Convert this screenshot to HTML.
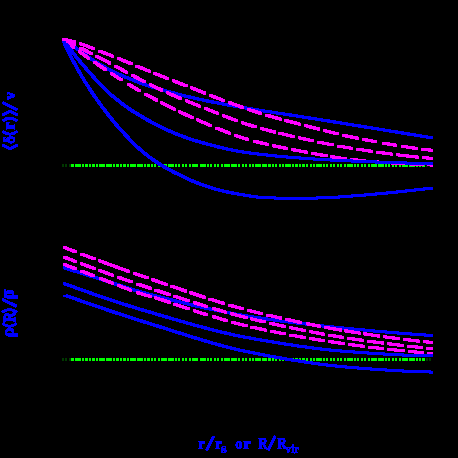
<!DOCTYPE html>
<html><head><meta charset="utf-8"><title>plot</title>
<style>
html,body{margin:0;padding:0;background:#000;}
body{width:458px;height:458px;position:relative;overflow:hidden;font-family:"Liberation Serif",serif;}
</style></head><body>
<svg width="458" height="458" viewBox="0 0 458 458" style="position:absolute;left:0;top:0">
<rect width="458" height="458" fill="#000"/>
<path d="M71 164H74V167H71ZM75 164H81V167H75ZM82 164H84V167H82ZM85 164H88V167H85ZM89 164H91V167H89ZM92 164H95V167H92ZM96 164H98V167H96ZM99 164H105V167H99ZM106 164H112V167H106ZM113 164H115V167H113ZM116 164H119V167H116ZM120 164H122V167H120ZM123 164H126V167H123ZM127 164H129V167H127ZM130 164H136V167H130ZM137 164H143V167H137ZM144 164H146V167H144ZM147 164H150V167H147ZM151 164H153V167H151ZM154 164H156V167H154ZM158 164H160V167H158ZM161 164H167V167H161ZM168 164H174V167H168ZM175 164H177V167H175ZM178 164H180V167H178ZM182 164H184V167H182ZM185 164H187V167H185ZM189 164H191V167H189ZM192 164H198V167H192ZM200 164H206V167H200ZM207 164H209V167H207ZM210 164H212V167H210ZM214 164H216V167H214ZM217 164H219V167H217ZM221 164H223V167H221ZM224 164H230V167H224ZM231 164H237V167H231ZM238 164H240V167H238ZM242 164H244V167H242ZM245 164H247V167H245ZM249 164H251V167H249ZM252 164H254V167H252ZM255 164H261V167H255ZM262 164H267V167H262ZM268 164H271V167H268ZM272 164H274V167H272ZM275 164H277V167H275ZM279 164H281V167H279ZM282 164H284V167H282ZM285 164H291V167H285ZM292 164H294V167H292ZM295 164H298V167H295ZM299 164H301V167H299ZM302 164H305V167H302ZM306 164H308V167H306ZM310 164H312V167H310ZM313 164H315V167H313ZM316 164H322V167H316ZM323 164H325V167H323ZM326 164H328V167H326ZM330 164H332V167H330ZM333 164H335V167H333ZM337 164H339V167H337ZM340 164H342V167H340ZM344 164H346V167H344ZM347 164H353V167H347ZM354 164H356V167H354ZM357 164H359V167H357ZM361 164H363V167H361ZM364 164H366V167H364ZM368 164H370V167H368ZM371 164H377V167H371ZM378 164H384V167H378ZM385 164H387V167H385ZM388 164H390V167H388ZM392 164H394V167H392ZM395 164H397V167H395ZM399 164H401V167H399ZM402 164H408V167H402ZM409 164H415V167H409ZM416 164H418V167H416ZM419 164H421V167H419ZM422 164H425V167H422Z" fill="#00ff00" shape-rendering="crispEdges"/>
<path d="M62 164H64V167H62ZM65 164H67V167H65ZM69 164H71V167H69ZM426 164H428V167H426ZM429 164H431V167H429Z" fill="#003800" shape-rendering="crispEdges"/>
<path d="M71 358H74V361H71ZM75 358H81V361H75ZM82 358H84V361H82ZM85 358H88V361H85ZM89 358H91V361H89ZM92 358H95V361H92ZM96 358H98V361H96ZM99 358H105V361H99ZM106 358H112V361H106ZM113 358H115V361H113ZM116 358H119V361H116ZM120 358H122V361H120ZM123 358H126V361H123ZM127 358H129V361H127ZM130 358H136V361H130ZM137 358H143V361H137ZM144 358H146V361H144ZM147 358H150V361H147ZM151 358H153V361H151ZM154 358H156V361H154ZM158 358H160V361H158ZM161 358H167V361H161ZM168 358H174V361H168ZM175 358H177V361H175ZM178 358H180V361H178ZM182 358H184V361H182ZM185 358H187V361H185ZM189 358H191V361H189ZM192 358H198V361H192ZM200 358H206V361H200ZM207 358H209V361H207ZM210 358H212V361H210ZM214 358H216V361H214ZM217 358H219V361H217ZM221 358H223V361H221ZM224 358H230V361H224ZM231 358H237V361H231ZM238 358H240V361H238ZM242 358H244V361H242ZM245 358H247V361H245ZM249 358H251V361H249ZM252 358H254V361H252ZM255 358H261V361H255ZM262 358H267V361H262ZM268 358H271V361H268ZM272 358H274V361H272ZM275 358H277V361H275ZM279 358H281V361H279ZM282 358H284V361H282ZM285 358H291V361H285ZM292 358H294V361H292ZM295 358H298V361H295ZM299 358H301V361H299ZM302 358H305V361H302ZM306 358H308V361H306ZM310 358H312V361H310ZM313 358H315V361H313ZM316 358H322V361H316ZM323 358H325V361H323ZM326 358H328V361H326ZM330 358H332V361H330ZM333 358H335V361H333ZM337 358H339V361H337ZM340 358H342V361H340ZM344 358H346V361H344ZM347 358H353V361H347ZM354 358H356V361H354ZM357 358H359V361H357ZM361 358H363V361H361ZM364 358H366V361H364ZM368 358H370V361H368ZM371 358H377V361H371ZM378 358H384V361H378ZM385 358H387V361H385ZM388 358H390V361H388ZM392 358H394V361H392ZM395 358H397V361H395ZM399 358H401V361H399ZM402 358H408V361H402ZM409 358H415V361H409ZM416 358H418V361H416ZM419 358H421V361H419ZM422 358H425V361H422Z" fill="#00ff00" shape-rendering="crispEdges"/>
<path d="M62 358H64V361H62ZM65 358H67V361H65ZM69 358H71V361H69ZM426 358H428V361H426ZM429 358H431V361H429Z" fill="#003800" shape-rendering="crispEdges"/>
<g shape-rendering="crispEdges">
<path id="tb1" d="M62.8 38.3 L65.0 38.3 L66.0 39.0 L67.0 39.7 L68.0 40.4 L69.0 41.1 L70.0 41.8 L71.0 42.5 L72.0 43.2 L73.0 43.9 L74.0 44.5 L75.0 45.2 L76.0 45.9 L77.0 46.6 L78.0 47.3 L79.0 48.0 L80.0 48.7 L81.0 49.5 L82.0 50.2 L83.0 50.9 L84.0 51.6 L85.0 52.3 L86.0 53.1 L87.0 53.8 L88.0 54.5 L89.0 55.2 L90.0 55.9 L91.0 56.6 L92.0 57.3 L93.0 57.9 L94.0 58.6 L95.0 59.2 L96.0 59.9 L97.0 60.5 L98.0 61.1 L99.0 61.7 L100.0 62.3 L101.0 62.9 L102.0 63.5 L103.0 64.1 L104.0 64.7 L105.0 65.2 L106.0 65.8 L107.0 66.4 L108.0 66.9 L109.0 67.4 L110.0 68.0 L111.0 68.5 L112.0 69.0 L113.0 69.5 L114.0 70.0 L115.0 70.5 L116.0 71.0 L117.0 71.4 L118.0 71.9 L119.0 72.4 L120.0 72.8 L121.0 73.3 L122.0 73.7 L123.0 74.1 L124.0 74.5 L125.0 75.0 L126.0 75.4 L127.0 75.8 L128.0 76.2 L129.0 76.6 L130.0 77.0 L131.0 77.4 L132.0 77.8 L133.0 78.2 L134.0 78.6 L135.0 79.0 L136.0 79.4 L137.0 79.8 L138.0 80.2 L139.0 80.5 L140.0 80.9 L141.0 81.3 L142.0 81.6 L143.0 82.0 L144.0 82.3 L145.0 82.7 L146.0 83.0 L147.0 83.4 L148.0 83.7 L149.0 84.0 L150.0 84.3 L151.0 84.7 L152.0 85.0 L153.0 85.3 L154.0 85.6 L155.0 85.9 L156.0 86.2 L157.0 86.5 L158.0 86.8 L159.0 87.1 L160.0 87.4 L161.0 87.7 L162.0 88.0 L163.0 88.3 L164.0 88.6 L165.0 88.9 L166.0 89.2 L167.0 89.4 L168.0 89.7 L169.0 90.0 L170.0 90.3 L171.0 90.5 L172.0 90.8 L173.0 91.1 L174.0 91.4 L175.0 91.6 L176.0 91.9 L177.0 92.1 L178.0 92.4 L179.0 92.7 L180.0 92.9 L181.0 93.2 L182.0 93.4 L183.0 93.7 L184.0 93.9 L185.0 94.2 L186.0 94.4 L187.0 94.7 L188.0 94.9 L189.0 95.1 L190.0 95.4 L191.0 95.6 L192.0 95.8 L193.0 96.1 L194.0 96.3 L195.0 96.5 L196.0 96.8 L197.0 97.0 L198.0 97.2 L199.0 97.4 L200.0 97.7 L201.0 97.9 L202.0 98.1 L203.0 98.3 L204.0 98.5 L205.0 98.7 L206.0 98.9 L207.0 99.2 L208.0 99.4 L209.0 99.6 L210.0 99.8 L211.0 100.0 L212.0 100.2 L213.0 100.4 L214.0 100.6 L215.0 100.8 L216.0 101.0 L217.0 101.2 L218.0 101.3 L219.0 101.5 L220.0 101.7 L221.0 101.9 L222.0 102.1 L223.0 102.3 L224.0 102.5 L225.0 102.7 L226.0 102.8 L227.0 103.0 L228.0 103.2 L229.0 103.4 L230.0 103.6 L231.0 103.7 L232.0 103.9 L233.0 104.1 L234.0 104.3 L235.0 104.4 L236.0 104.6 L237.0 104.8 L238.0 105.0 L239.0 105.1 L240.0 105.3 L241.0 105.5 L242.0 105.7 L243.0 105.8 L244.0 106.0 L245.0 106.2 L246.0 106.3 L247.0 106.5 L248.0 106.7 L249.0 106.8 L250.0 107.0 L251.0 107.2 L252.0 107.4 L253.0 107.5 L254.0 107.7 L255.0 107.9 L256.0 108.0 L257.0 108.2 L258.0 108.3 L259.0 108.5 L260.0 108.7 L261.0 108.8 L262.0 109.0 L263.0 109.1 L264.0 109.3 L265.0 109.5 L266.0 109.6 L267.0 109.8 L268.0 109.9 L269.0 110.1 L270.0 110.2 L271.0 110.4 L272.0 110.5 L273.0 110.7 L274.0 110.9 L275.0 111.0 L276.0 111.2 L277.0 111.3 L278.0 111.5 L279.0 111.6 L280.0 111.8 L281.0 111.9 L282.0 112.1 L283.0 112.2 L284.0 112.4 L285.0 112.5 L286.0 112.7 L287.0 112.8 L288.0 113.0 L289.0 113.1 L290.0 113.3 L291.0 113.4 L292.0 113.6 L293.0 113.7 L294.0 113.9 L295.0 114.0 L296.0 114.2 L297.0 114.4 L298.0 114.5 L299.0 114.7 L300.0 114.8 L301.0 115.0 L302.0 115.1 L303.0 115.3 L304.0 115.5 L305.0 115.6 L306.0 115.8 L307.0 115.9 L308.0 116.1 L309.0 116.3 L310.0 116.4 L311.0 116.6 L312.0 116.7 L313.0 116.9 L314.0 117.0 L315.0 117.2 L316.0 117.4 L317.0 117.5 L318.0 117.7 L319.0 117.8 L320.0 118.0 L321.0 118.2 L322.0 118.3 L323.0 118.5 L324.0 118.6 L325.0 118.8 L326.0 119.0 L327.0 119.1 L328.0 119.3 L329.0 119.4 L330.0 119.6 L331.0 119.8 L332.0 119.9 L333.0 120.1 L334.0 120.2 L335.0 120.4 L336.0 120.6 L337.0 120.7 L338.0 120.9 L339.0 121.1 L340.0 121.2 L341.0 121.4 L342.0 121.5 L343.0 121.7 L344.0 121.9 L345.0 122.0 L346.0 122.2 L347.0 122.3 L348.0 122.5 L349.0 122.7 L350.0 122.8 L351.0 123.0 L352.0 123.1 L353.0 123.3 L354.0 123.5 L355.0 123.6 L356.0 123.8 L357.0 124.0 L358.0 124.1 L359.0 124.3 L360.0 124.4 L361.0 124.6 L362.0 124.8 L363.0 124.9 L364.0 125.1 L365.0 125.2 L366.0 125.4 L367.0 125.6 L368.0 125.7 L369.0 125.9 L370.0 126.1 L371.0 126.2 L372.0 126.4 L373.0 126.5 L374.0 126.7 L375.0 126.9 L376.0 127.0 L377.0 127.2 L378.0 127.3 L379.0 127.5 L380.0 127.7 L381.0 127.8 L382.0 128.0 L383.0 128.2 L384.0 128.3 L385.0 128.5 L386.0 128.6 L387.0 128.8 L388.0 129.0 L389.0 129.1 L390.0 129.3 L391.0 129.5 L392.0 129.6 L393.0 129.8 L394.0 129.9 L395.0 130.1 L396.0 130.3 L397.0 130.4 L398.0 130.6 L399.0 130.8 L400.0 130.9 L401.0 131.1 L402.0 131.2 L403.0 131.4 L404.0 131.6 L405.0 131.7 L406.0 131.9 L407.0 132.1 L408.0 132.2 L409.0 132.4 L410.0 132.6 L411.0 132.7 L412.0 132.9 L413.0 133.0 L414.0 133.2 L415.0 133.4 L416.0 133.5 L417.0 133.7 L418.0 133.9 L419.0 134.0 L420.0 134.2 L421.0 134.4 L422.0 134.5 L423.0 134.7 L424.0 134.8 L425.0 135.0 L426.0 135.2 L427.0 135.3 L428.0 135.5 L429.0 135.7 L430.0 135.8 L431.0 136.0 L432.0 136.2 L432.6 136.3 L432.6 139.3 L430.4 139.3 L429.8 139.2 L428.8 139.0 L427.8 138.8 L426.8 138.7 L425.8 138.5 L424.8 138.3 L423.8 138.2 L422.8 138.0 L421.8 137.8 L420.8 137.7 L419.8 137.5 L418.8 137.4 L417.8 137.2 L416.8 137.0 L415.8 136.9 L414.8 136.7 L413.8 136.5 L412.8 136.4 L411.8 136.2 L410.8 136.0 L409.8 135.9 L408.8 135.7 L407.8 135.6 L406.8 135.4 L405.8 135.2 L404.8 135.1 L403.8 134.9 L402.8 134.7 L401.8 134.6 L400.8 134.4 L399.8 134.2 L398.8 134.1 L397.8 133.9 L396.8 133.8 L395.8 133.6 L394.8 133.4 L393.8 133.3 L392.8 133.1 L391.8 132.9 L390.8 132.8 L389.8 132.6 L388.8 132.5 L387.8 132.3 L386.8 132.1 L385.8 132.0 L384.8 131.8 L383.8 131.6 L382.8 131.5 L381.8 131.3 L380.8 131.2 L379.8 131.0 L378.8 130.8 L377.8 130.7 L376.8 130.5 L375.8 130.3 L374.8 130.2 L373.8 130.0 L372.8 129.9 L371.8 129.7 L370.8 129.5 L369.8 129.4 L368.8 129.2 L367.8 129.1 L366.8 128.9 L365.8 128.7 L364.8 128.6 L363.8 128.4 L362.8 128.2 L361.8 128.1 L360.8 127.9 L359.8 127.8 L358.8 127.6 L357.8 127.4 L356.8 127.3 L355.8 127.1 L354.8 127.0 L353.8 126.8 L352.8 126.6 L351.8 126.5 L350.8 126.3 L349.8 126.1 L348.8 126.0 L347.8 125.8 L346.8 125.7 L345.8 125.5 L344.8 125.3 L343.8 125.2 L342.8 125.0 L341.8 124.9 L340.8 124.7 L339.8 124.5 L338.8 124.4 L337.8 124.2 L336.8 124.1 L335.8 123.9 L334.8 123.7 L333.8 123.6 L332.8 123.4 L331.8 123.2 L330.8 123.1 L329.8 122.9 L328.8 122.8 L327.8 122.6 L326.8 122.4 L325.8 122.3 L324.8 122.1 L323.8 122.0 L322.8 121.8 L321.8 121.6 L320.8 121.5 L319.8 121.3 L318.8 121.2 L317.8 121.0 L316.8 120.8 L315.8 120.7 L314.8 120.5 L313.8 120.4 L312.8 120.2 L311.8 120.0 L310.8 119.9 L309.8 119.7 L308.8 119.6 L307.8 119.4 L306.8 119.3 L305.8 119.1 L304.8 118.9 L303.8 118.8 L302.8 118.6 L301.8 118.5 L300.8 118.3 L299.8 118.1 L298.8 118.0 L297.8 117.8 L296.8 117.7 L295.8 117.5 L294.8 117.4 L293.8 117.2 L292.8 117.0 L291.8 116.9 L290.8 116.7 L289.8 116.6 L288.8 116.4 L287.8 116.3 L286.8 116.1 L285.8 116.0 L284.8 115.8 L283.8 115.7 L282.8 115.5 L281.8 115.4 L280.8 115.2 L279.8 115.1 L278.8 114.9 L277.8 114.8 L276.8 114.6 L275.8 114.5 L274.8 114.3 L273.8 114.2 L272.8 114.0 L271.8 113.9 L270.8 113.7 L269.8 113.5 L268.8 113.4 L267.8 113.2 L266.8 113.1 L265.8 112.9 L264.8 112.8 L263.8 112.6 L262.8 112.5 L261.8 112.3 L260.8 112.1 L259.8 112.0 L258.8 111.8 L257.8 111.7 L256.8 111.5 L255.8 111.3 L254.8 111.2 L253.8 111.0 L252.8 110.9 L251.8 110.7 L250.8 110.5 L249.8 110.4 L248.8 110.2 L247.8 110.0 L246.8 109.8 L245.8 109.7 L244.8 109.5 L243.8 109.3 L242.8 109.2 L241.8 109.0 L240.8 108.8 L239.8 108.7 L238.8 108.5 L237.8 108.3 L236.8 108.1 L235.8 108.0 L234.8 107.8 L233.8 107.6 L232.8 107.4 L231.8 107.3 L230.8 107.1 L229.8 106.9 L228.8 106.7 L227.8 106.6 L226.8 106.4 L225.8 106.2 L224.8 106.0 L223.8 105.8 L222.8 105.7 L221.8 105.5 L220.8 105.3 L219.8 105.1 L218.8 104.9 L217.8 104.7 L216.8 104.5 L215.8 104.3 L214.8 104.2 L213.8 104.0 L212.8 103.8 L211.8 103.6 L210.8 103.4 L209.8 103.2 L208.8 103.0 L207.8 102.8 L206.8 102.6 L205.8 102.4 L204.8 102.2 L203.8 101.9 L202.8 101.7 L201.8 101.5 L200.8 101.3 L199.8 101.1 L198.8 100.9 L197.8 100.7 L196.8 100.4 L195.8 100.2 L194.8 100.0 L193.8 99.8 L192.8 99.5 L191.8 99.3 L190.8 99.1 L189.8 98.8 L188.8 98.6 L187.8 98.4 L186.8 98.1 L185.8 97.9 L184.8 97.7 L183.8 97.4 L182.8 97.2 L181.8 96.9 L180.8 96.7 L179.8 96.4 L178.8 96.2 L177.8 95.9 L176.8 95.7 L175.8 95.4 L174.8 95.1 L173.8 94.9 L172.8 94.6 L171.8 94.4 L170.8 94.1 L169.8 93.8 L168.8 93.5 L167.8 93.3 L166.8 93.0 L165.8 92.7 L164.8 92.4 L163.8 92.2 L162.8 91.9 L161.8 91.6 L160.8 91.3 L159.8 91.0 L158.8 90.7 L157.8 90.4 L156.8 90.1 L155.8 89.8 L154.8 89.5 L153.8 89.2 L152.8 88.9 L151.8 88.6 L150.8 88.3 L149.8 88.0 L148.8 87.7 L147.8 87.3 L146.8 87.0 L145.8 86.7 L144.8 86.4 L143.8 86.0 L142.8 85.7 L141.8 85.3 L140.8 85.0 L139.8 84.6 L138.8 84.3 L137.8 83.9 L136.8 83.5 L135.8 83.2 L134.8 82.8 L133.8 82.4 L132.8 82.0 L131.8 81.6 L130.8 81.2 L129.8 80.8 L128.8 80.4 L127.8 80.0 L126.8 79.6 L125.8 79.2 L124.8 78.8 L123.8 78.4 L122.8 78.0 L121.8 77.5 L120.8 77.1 L119.8 76.7 L118.8 76.3 L117.8 75.8 L116.8 75.4 L115.8 74.9 L114.8 74.4 L113.8 74.0 L112.8 73.5 L111.8 73.0 L110.8 72.5 L109.8 72.0 L108.8 71.5 L107.8 71.0 L106.8 70.4 L105.8 69.9 L104.8 69.4 L103.8 68.8 L102.8 68.2 L101.8 67.7 L100.8 67.1 L99.8 66.5 L98.8 65.9 L97.8 65.3 L96.8 64.7 L95.8 64.1 L94.8 63.5 L93.8 62.9 L92.8 62.2 L91.8 61.6 L90.8 60.9 L89.8 60.3 L88.8 59.6 L87.8 58.9 L86.8 58.2 L85.8 57.5 L84.8 56.8 L83.8 56.1 L82.8 55.3 L81.8 54.6 L80.8 53.9 L79.8 53.2 L78.8 52.5 L77.8 51.7 L76.8 51.0 L75.8 50.3 L74.8 49.6 L73.8 48.9 L72.8 48.2 L71.8 47.5 L70.8 46.9 L69.8 46.2 L68.8 45.5 L67.8 44.8 L66.8 44.1 L65.8 43.4 L64.8 42.7 L63.8 42.0 L62.8 41.3Z" fill="#0000ff"/>
<path d="M62.4 38.1 L64.6 38.1 L65.6 38.9 L66.6 39.7 L67.6 40.5 L68.6 41.2 L69.6 42.0 L70.6 42.7 L71.6 43.5 L72.6 44.2 L73.6 45.0 L74.6 45.7 L74.6 48.7 L72.4 48.7 L71.4 48.0 L70.4 47.2 L69.4 46.5 L68.4 45.7 L67.4 45.0 L66.4 44.2 L65.4 43.5 L64.4 42.7 L63.4 41.9 L62.4 41.1ZM78.4 50.1 L80.6 50.1 L81.6 50.9 L82.6 51.6 L83.6 52.3 L84.6 53.0 L85.6 53.7 L86.6 54.5 L87.6 55.2 L88.6 55.9 L89.6 56.6 L89.6 59.6 L87.4 59.6 L86.4 58.9 L85.4 58.2 L84.4 57.5 L83.4 56.7 L82.4 56.0 L81.4 55.3 L80.4 54.6 L79.4 53.9 L78.4 53.1ZM93.4 60.8 L95.6 60.8 L96.6 61.4 L97.6 62.1 L98.6 62.8 L99.6 63.5 L100.6 64.2 L101.6 64.8 L102.6 65.5 L103.6 66.2 L104.6 66.8 L105.6 67.5 L106.6 68.2 L106.6 71.2 L104.4 71.2 L103.4 70.5 L102.4 69.8 L101.4 69.2 L100.4 68.5 L99.4 67.8 L98.4 67.2 L97.4 66.5 L96.4 65.8 L95.4 65.1 L94.4 64.4 L93.4 63.8ZM110.4 72.1 L112.6 72.1 L113.6 72.7 L114.6 73.4 L115.6 74.0 L116.6 74.7 L117.6 75.3 L118.6 75.9 L119.6 76.6 L120.6 77.2 L121.6 77.8 L122.6 78.4 L122.6 81.4 L120.4 81.4 L119.4 80.8 L118.4 80.2 L117.4 79.6 L116.4 78.9 L115.4 78.3 L114.4 77.7 L113.4 77.0 L112.4 76.4 L111.4 75.7 L110.4 75.1ZM127.4 82.7 L129.6 82.7 L130.6 83.3 L131.6 83.9 L132.6 84.5 L133.6 85.1 L134.6 85.7 L135.6 86.3 L136.6 86.9 L137.6 87.5 L138.6 88.1 L139.6 88.7 L140.6 89.2 L140.6 92.2 L138.4 92.2 L137.4 91.7 L136.4 91.1 L135.4 90.5 L134.4 89.9 L133.4 89.3 L132.4 88.7 L131.4 88.1 L130.4 87.5 L129.4 86.9 L128.4 86.3 L127.4 85.7ZM144.4 92.6 L146.6 92.6 L147.6 93.2 L148.6 93.7 L149.6 94.3 L150.6 94.8 L151.6 95.4 L152.6 95.9 L153.6 96.4 L154.6 97.0 L155.6 97.5 L156.6 98.0 L157.6 98.5 L157.6 101.5 L155.4 101.5 L154.4 101.0 L153.4 100.5 L152.4 100.0 L151.4 99.4 L150.4 98.9 L149.4 98.4 L148.4 97.8 L147.4 97.3 L146.4 96.7 L145.4 96.2 L144.4 95.6ZM160.4 101.2 L162.6 101.2 L163.6 101.7 L164.6 102.2 L165.6 102.7 L166.6 103.2 L167.6 103.7 L168.6 104.2 L169.6 104.7 L170.6 105.2 L171.6 105.7 L172.6 106.2 L173.6 106.7 L174.6 107.2 L175.6 107.7 L175.6 110.7 L173.4 110.7 L172.4 110.2 L171.4 109.7 L170.4 109.2 L169.4 108.7 L168.4 108.2 L167.4 107.7 L166.4 107.2 L165.4 106.7 L164.4 106.2 L163.4 105.7 L162.4 105.2 L161.4 104.7 L160.4 104.2ZM178.4 110.2 L180.6 110.2 L181.6 110.6 L182.6 111.1 L183.6 111.6 L184.6 112.1 L185.6 112.5 L186.6 113.0 L187.6 113.5 L188.6 113.9 L189.6 114.4 L190.6 114.9 L191.6 115.3 L192.6 115.8 L193.6 116.2 L193.6 119.2 L191.4 119.2 L190.4 118.8 L189.4 118.3 L188.4 117.9 L187.4 117.4 L186.4 116.9 L185.4 116.5 L184.4 116.0 L183.4 115.5 L182.4 115.1 L181.4 114.6 L180.4 114.1 L179.4 113.6 L178.4 113.2ZM196.4 118.4 L198.6 118.4 L199.6 118.9 L200.6 119.3 L201.6 119.7 L202.6 120.1 L203.6 120.6 L204.6 121.0 L205.6 121.4 L206.6 121.9 L207.6 122.3 L208.6 122.7 L209.6 123.1 L210.6 123.6 L211.6 124.0 L211.6 127.0 L209.4 127.0 L208.4 126.6 L207.4 126.1 L206.4 125.7 L205.4 125.3 L204.4 124.9 L203.4 124.4 L202.4 124.0 L201.4 123.6 L200.4 123.1 L199.4 122.7 L198.4 122.3 L197.4 121.9 L196.4 121.4ZM215.4 126.5 L217.6 126.5 L218.6 126.9 L219.6 127.3 L220.6 127.7 L221.6 128.1 L222.6 128.5 L223.6 128.9 L224.6 129.3 L225.6 129.7 L226.6 130.1 L227.6 130.5 L228.6 130.9 L229.6 131.3 L230.6 131.7 L230.6 134.7 L228.4 134.7 L227.4 134.3 L226.4 133.9 L225.4 133.5 L224.4 133.1 L223.4 132.7 L222.4 132.3 L221.4 131.9 L220.4 131.5 L219.4 131.1 L218.4 130.7 L217.4 130.3 L216.4 129.9 L215.4 129.5ZM234.4 133.9 L236.6 133.9 L237.6 134.2 L238.6 134.6 L239.6 134.9 L240.6 135.3 L241.6 135.6 L242.6 135.9 L243.6 136.2 L244.6 136.6 L245.6 136.9 L246.6 137.2 L247.6 137.5 L248.6 137.8 L248.6 140.8 L246.4 140.8 L245.4 140.5 L244.4 140.2 L243.4 139.9 L242.4 139.6 L241.4 139.2 L240.4 138.9 L239.4 138.6 L238.4 138.3 L237.4 137.9 L236.4 137.6 L235.4 137.2 L234.4 136.9ZM253.4 139.7 L255.6 139.7 L256.6 140.0 L257.6 140.2 L258.6 140.5 L259.6 140.8 L260.6 141.0 L261.6 141.2 L262.6 141.5 L263.6 141.7 L264.6 142.0 L265.6 142.2 L266.6 142.4 L267.6 142.7 L268.6 142.9 L268.6 145.9 L266.4 145.9 L265.4 145.7 L264.4 145.4 L263.4 145.2 L262.4 145.0 L261.4 144.7 L260.4 144.5 L259.4 144.2 L258.4 144.0 L257.4 143.8 L256.4 143.5 L255.4 143.2 L254.4 143.0 L253.4 142.7ZM272.4 144.2 L274.6 144.2 L275.6 144.5 L276.6 144.7 L277.6 144.9 L278.6 145.1 L279.6 145.3 L280.6 145.5 L281.6 145.7 L282.6 145.9 L283.6 146.1 L284.6 146.3 L285.6 146.5 L286.6 146.7 L287.6 146.9 L287.6 149.9 L285.4 149.9 L284.4 149.7 L283.4 149.5 L282.4 149.3 L281.4 149.1 L280.4 148.9 L279.4 148.7 L278.4 148.5 L277.4 148.3 L276.4 148.1 L275.4 147.9 L274.4 147.7 L273.4 147.5 L272.4 147.2ZM291.4 148.1 L293.6 148.1 L294.6 148.3 L295.6 148.5 L296.6 148.6 L297.6 148.8 L298.6 149.0 L299.6 149.2 L300.6 149.4 L301.6 149.6 L302.6 149.8 L303.6 150.0 L304.6 150.2 L305.6 150.4 L306.6 150.5 L307.6 150.7 L307.6 153.7 L305.4 153.7 L304.4 153.5 L303.4 153.4 L302.4 153.2 L301.4 153.0 L300.4 152.8 L299.4 152.6 L298.4 152.4 L297.4 152.2 L296.4 152.0 L295.4 151.8 L294.4 151.6 L293.4 151.5 L292.4 151.3 L291.4 151.1ZM311.4 151.9 L313.6 151.9 L314.6 152.0 L315.6 152.2 L316.6 152.4 L317.6 152.6 L318.6 152.8 L319.6 153.0 L320.6 153.1 L321.6 153.3 L322.6 153.5 L323.6 153.7 L324.6 153.9 L325.6 154.0 L326.6 154.2 L327.6 154.4 L327.6 157.4 L325.4 157.4 L324.4 157.2 L323.4 157.0 L322.4 156.9 L321.4 156.7 L320.4 156.5 L319.4 156.3 L318.4 156.1 L317.4 156.0 L316.4 155.8 L315.4 155.6 L314.4 155.4 L313.4 155.2 L312.4 155.0 L311.4 154.9ZM330.4 155.2 L332.6 155.2 L333.6 155.4 L334.6 155.5 L335.6 155.7 L336.6 155.8 L337.6 156.0 L338.6 156.1 L339.6 156.3 L340.6 156.4 L341.6 156.6 L342.6 156.7 L343.6 156.9 L344.6 157.0 L345.6 157.1 L346.6 157.3 L346.6 160.3 L344.4 160.3 L343.4 160.1 L342.4 160.0 L341.4 159.9 L340.4 159.7 L339.4 159.6 L338.4 159.4 L337.4 159.3 L336.4 159.1 L335.4 159.0 L334.4 158.8 L333.4 158.7 L332.4 158.5 L331.4 158.4 L330.4 158.2ZM350.4 158.0 L352.6 158.0 L353.6 158.1 L354.6 158.2 L355.6 158.3 L356.6 158.4 L357.6 158.5 L358.6 158.6 L359.6 158.7 L360.6 158.8 L361.6 158.9 L362.6 159.0 L363.6 159.1 L364.6 159.2 L365.6 159.3 L365.6 162.3 L363.4 162.3 L362.4 162.2 L361.4 162.1 L360.4 162.0 L359.4 161.9 L358.4 161.8 L357.4 161.7 L356.4 161.6 L355.4 161.5 L354.4 161.4 L353.4 161.3 L352.4 161.2 L351.4 161.1 L350.4 161.0ZM371.4 160.1 L373.6 160.1 L374.6 160.2 L375.6 160.3 L376.6 160.4 L377.6 160.4 L378.6 160.5 L379.6 160.6 L380.6 160.7 L381.6 160.8 L382.6 160.9 L383.6 160.9 L384.6 161.0 L385.6 161.1 L386.6 161.2 L386.6 164.2 L384.4 164.2 L383.4 164.1 L382.4 164.0 L381.4 163.9 L380.4 163.9 L379.4 163.8 L378.4 163.7 L377.4 163.6 L376.4 163.5 L375.4 163.4 L374.4 163.4 L373.4 163.3 L372.4 163.2 L371.4 163.1ZM391.4 161.6 L393.6 161.6 L394.6 161.7 L395.6 161.8 L396.6 161.8 L397.6 161.9 L398.6 162.0 L399.6 162.0 L400.6 162.1 L401.6 162.1 L402.6 162.2 L403.6 162.2 L404.6 162.3 L405.6 162.3 L405.6 165.3 L403.4 165.3 L402.4 165.3 L401.4 165.2 L400.4 165.2 L399.4 165.1 L398.4 165.1 L397.4 165.0 L396.4 165.0 L395.4 164.9 L394.4 164.8 L393.4 164.8 L392.4 164.7 L391.4 164.6ZM410.4 162.7 L412.6 162.7 L413.6 162.7 L414.6 162.8 L415.6 162.8 L416.6 162.9 L417.6 162.9 L418.6 163.0 L419.6 163.0 L420.6 163.1 L421.6 163.1 L422.6 163.1 L423.6 163.2 L423.6 166.2 L421.4 166.2 L420.4 166.1 L419.4 166.1 L418.4 166.1 L417.4 166.0 L416.4 166.0 L415.4 165.9 L414.4 165.9 L413.4 165.8 L412.4 165.8 L411.4 165.7 L410.4 165.7ZM427.4 163.4 L429.6 163.4 L430.6 163.4 L431.6 163.4 L432.6 163.5 L432.6 166.5 L430.4 166.5 L429.4 166.4 L428.4 166.4 L427.4 166.4Z" fill="#ff00ff"/>
<path id="tb2" d="M62.4 39.8 L65.4 39.8 L66.4 41.1 L67.4 42.5 L68.4 43.8 L69.4 45.1 L70.4 46.5 L71.4 47.8 L72.4 49.1 L73.4 50.3 L74.4 51.6 L75.4 52.9 L76.4 54.1 L77.4 55.4 L78.4 56.6 L79.4 57.9 L80.4 59.1 L81.4 60.3 L82.4 61.5 L83.4 62.7 L84.4 63.8 L85.4 65.0 L86.4 66.1 L87.4 67.3 L88.4 68.4 L89.4 69.6 L90.4 70.7 L91.4 71.8 L92.4 72.9 L93.4 74.1 L94.4 75.2 L95.4 76.3 L96.4 77.5 L97.4 78.6 L98.4 79.7 L99.4 80.8 L100.4 81.9 L101.4 83.0 L102.4 84.0 L103.4 85.1 L104.4 86.1 L105.0 86.7 L106.0 87.7 L107.0 88.7 L108.0 89.6 L109.0 90.5 L110.0 91.4 L111.0 92.3 L112.0 93.2 L113.0 94.0 L114.0 94.9 L115.0 95.7 L116.0 96.5 L117.0 97.3 L118.0 98.1 L119.0 98.9 L120.0 99.7 L121.0 100.5 L122.0 101.3 L123.0 102.0 L124.0 102.8 L125.0 103.6 L126.0 104.3 L127.0 105.0 L128.0 105.7 L129.0 106.4 L130.0 107.1 L131.0 107.8 L132.0 108.5 L133.0 109.1 L134.0 109.7 L135.0 110.3 L136.0 110.9 L137.0 111.6 L138.0 112.2 L139.0 112.8 L140.0 113.4 L141.0 114.0 L142.0 114.6 L143.0 115.2 L144.0 115.8 L145.0 116.4 L146.0 117.0 L147.0 117.5 L148.0 118.1 L149.0 118.7 L150.0 119.2 L151.0 119.7 L152.0 120.3 L153.0 120.8 L154.0 121.3 L155.0 121.9 L156.0 122.4 L157.0 122.9 L158.0 123.4 L159.0 123.9 L160.0 124.5 L161.0 125.0 L162.0 125.5 L163.0 126.0 L164.0 126.5 L165.0 126.9 L166.0 127.4 L167.0 127.9 L168.0 128.4 L169.0 128.8 L170.0 129.3 L171.0 129.7 L172.0 130.2 L173.0 130.6 L174.0 131.1 L175.0 131.5 L176.0 131.9 L177.0 132.3 L178.0 132.7 L179.0 133.1 L180.0 133.5 L181.0 133.9 L182.0 134.2 L183.0 134.6 L184.0 135.0 L185.0 135.3 L186.0 135.7 L187.0 136.0 L188.0 136.4 L189.0 136.7 L190.0 137.1 L191.0 137.4 L192.0 137.7 L193.0 138.1 L194.0 138.4 L195.0 138.7 L196.0 139.0 L197.0 139.3 L198.0 139.6 L199.0 139.9 L200.0 140.2 L201.0 140.5 L202.0 140.8 L203.0 141.0 L204.0 141.3 L205.0 141.6 L206.0 141.9 L207.0 142.1 L208.0 142.4 L209.0 142.7 L210.0 143.0 L211.0 143.2 L212.0 143.5 L213.0 143.8 L214.0 144.0 L215.0 144.3 L216.0 144.5 L217.0 144.8 L218.0 145.1 L219.0 145.3 L220.0 145.6 L221.0 145.8 L222.0 146.1 L223.0 146.3 L224.0 146.5 L225.0 146.8 L226.0 147.0 L227.0 147.2 L228.0 147.5 L229.0 147.7 L230.0 147.9 L231.0 148.1 L232.0 148.3 L233.0 148.5 L234.0 148.7 L235.0 148.9 L236.0 149.1 L237.0 149.3 L238.0 149.5 L239.0 149.7 L240.0 149.8 L241.0 150.0 L242.0 150.2 L243.0 150.3 L244.0 150.5 L245.0 150.6 L246.0 150.8 L247.0 150.9 L248.0 151.1 L249.0 151.2 L250.0 151.3 L251.0 151.5 L252.0 151.6 L253.0 151.7 L254.0 151.9 L255.0 152.0 L256.0 152.1 L257.0 152.3 L258.0 152.4 L259.0 152.5 L260.0 152.6 L261.0 152.7 L262.0 152.9 L263.0 153.0 L264.0 153.1 L265.0 153.2 L266.0 153.3 L267.0 153.4 L268.0 153.5 L269.0 153.6 L270.0 153.8 L271.0 153.9 L272.0 154.0 L273.0 154.1 L274.0 154.2 L275.0 154.3 L276.0 154.4 L277.0 154.5 L278.0 154.6 L279.0 154.7 L280.0 154.7 L281.0 154.8 L282.0 154.9 L283.0 155.0 L284.0 155.1 L285.0 155.2 L286.0 155.3 L287.0 155.4 L288.0 155.5 L289.0 155.5 L290.0 155.6 L291.0 155.7 L292.0 155.8 L293.0 155.9 L294.0 156.0 L295.0 156.0 L296.0 156.1 L297.0 156.2 L298.0 156.3 L299.0 156.3 L300.0 156.4 L301.0 156.5 L302.0 156.6 L303.0 156.6 L304.0 156.7 L305.0 156.8 L306.0 156.9 L307.0 156.9 L308.0 157.0 L309.0 157.1 L310.0 157.1 L311.0 157.2 L312.0 157.3 L313.0 157.3 L314.0 157.4 L315.0 157.5 L316.0 157.5 L317.0 157.6 L318.0 157.7 L319.0 157.7 L320.0 157.8 L321.0 157.8 L322.0 157.9 L323.0 158.0 L324.0 158.0 L325.0 158.1 L326.0 158.1 L327.0 158.2 L328.0 158.3 L329.0 158.3 L330.0 158.4 L331.0 158.4 L332.0 158.5 L333.0 158.5 L334.0 158.6 L335.0 158.6 L336.0 158.7 L337.0 158.7 L338.0 158.8 L339.0 158.8 L340.0 158.9 L341.0 158.9 L342.0 159.0 L343.0 159.0 L344.0 159.1 L345.0 159.1 L346.0 159.2 L347.0 159.2 L348.0 159.3 L349.0 159.3 L350.0 159.4 L351.0 159.4 L352.0 159.4 L353.0 159.5 L354.0 159.5 L355.0 159.6 L356.0 159.6 L357.0 159.6 L358.0 159.7 L359.0 159.7 L360.0 159.8 L361.0 159.8 L362.0 159.9 L363.0 159.9 L364.0 159.9 L365.0 160.0 L366.0 160.0 L367.0 160.1 L368.0 160.1 L369.0 160.1 L370.0 160.2 L371.0 160.2 L372.0 160.3 L373.0 160.3 L374.0 160.3 L375.0 160.4 L376.0 160.4 L377.0 160.5 L378.0 160.5 L379.0 160.5 L380.0 160.6 L381.0 160.6 L382.0 160.6 L383.0 160.7 L384.0 160.7 L385.0 160.8 L386.0 160.8 L387.0 160.8 L388.0 160.9 L389.0 160.9 L390.0 160.9 L391.0 161.0 L392.0 161.0 L393.0 161.0 L394.0 161.1 L395.0 161.1 L396.0 161.1 L397.0 161.2 L398.0 161.2 L399.0 161.2 L400.0 161.3 L401.0 161.3 L402.0 161.3 L403.0 161.4 L404.0 161.4 L405.0 161.4 L406.0 161.4 L407.0 161.5 L408.0 161.5 L409.0 161.5 L410.0 161.6 L411.0 161.6 L412.0 161.6 L413.0 161.6 L414.0 161.7 L415.0 161.7 L416.0 161.7 L417.0 161.7 L418.0 161.8 L419.0 161.8 L420.0 161.8 L421.0 161.8 L422.0 161.9 L423.0 161.9 L424.0 161.9 L425.0 161.9 L426.0 161.9 L427.0 162.0 L428.0 162.0 L429.0 162.0 L430.0 162.0 L431.0 162.0 L432.0 162.1 L432.6 162.1 L432.6 165.1 L430.4 165.1 L429.8 165.1 L428.8 165.0 L427.8 165.0 L426.8 165.0 L425.8 165.0 L424.8 165.0 L423.8 164.9 L422.8 164.9 L421.8 164.9 L420.8 164.9 L419.8 164.9 L418.8 164.8 L417.8 164.8 L416.8 164.8 L415.8 164.8 L414.8 164.7 L413.8 164.7 L412.8 164.7 L411.8 164.7 L410.8 164.6 L409.8 164.6 L408.8 164.6 L407.8 164.6 L406.8 164.5 L405.8 164.5 L404.8 164.5 L403.8 164.4 L402.8 164.4 L401.8 164.4 L400.8 164.4 L399.8 164.3 L398.8 164.3 L397.8 164.3 L396.8 164.2 L395.8 164.2 L394.8 164.2 L393.8 164.1 L392.8 164.1 L391.8 164.1 L390.8 164.0 L389.8 164.0 L388.8 164.0 L387.8 163.9 L386.8 163.9 L385.8 163.9 L384.8 163.8 L383.8 163.8 L382.8 163.8 L381.8 163.7 L380.8 163.7 L379.8 163.6 L378.8 163.6 L377.8 163.6 L376.8 163.5 L375.8 163.5 L374.8 163.5 L373.8 163.4 L372.8 163.4 L371.8 163.3 L370.8 163.3 L369.8 163.3 L368.8 163.2 L367.8 163.2 L366.8 163.1 L365.8 163.1 L364.8 163.1 L363.8 163.0 L362.8 163.0 L361.8 162.9 L360.8 162.9 L359.8 162.9 L358.8 162.8 L357.8 162.8 L356.8 162.7 L355.8 162.7 L354.8 162.6 L353.8 162.6 L352.8 162.6 L351.8 162.5 L350.8 162.5 L349.8 162.4 L348.8 162.4 L347.8 162.4 L346.8 162.3 L345.8 162.3 L344.8 162.2 L343.8 162.2 L342.8 162.1 L341.8 162.1 L340.8 162.0 L339.8 162.0 L338.8 161.9 L337.8 161.9 L336.8 161.8 L335.8 161.8 L334.8 161.7 L333.8 161.7 L332.8 161.6 L331.8 161.6 L330.8 161.5 L329.8 161.5 L328.8 161.4 L327.8 161.4 L326.8 161.3 L325.8 161.3 L324.8 161.2 L323.8 161.1 L322.8 161.1 L321.8 161.0 L320.8 161.0 L319.8 160.9 L318.8 160.8 L317.8 160.8 L316.8 160.7 L315.8 160.7 L314.8 160.6 L313.8 160.5 L312.8 160.5 L311.8 160.4 L310.8 160.3 L309.8 160.3 L308.8 160.2 L307.8 160.1 L306.8 160.1 L305.8 160.0 L304.8 159.9 L303.8 159.9 L302.8 159.8 L301.8 159.7 L300.8 159.6 L299.8 159.6 L298.8 159.5 L297.8 159.4 L296.8 159.3 L295.8 159.3 L294.8 159.2 L293.8 159.1 L292.8 159.0 L291.8 159.0 L290.8 158.9 L289.8 158.8 L288.8 158.7 L287.8 158.6 L286.8 158.5 L285.8 158.5 L284.8 158.4 L283.8 158.3 L282.8 158.2 L281.8 158.1 L280.8 158.0 L279.8 157.9 L278.8 157.8 L277.8 157.7 L276.8 157.7 L275.8 157.6 L274.8 157.5 L273.8 157.4 L272.8 157.3 L271.8 157.2 L270.8 157.1 L269.8 157.0 L268.8 156.9 L267.8 156.8 L266.8 156.6 L265.8 156.5 L264.8 156.4 L263.8 156.3 L262.8 156.2 L261.8 156.1 L260.8 156.0 L259.8 155.9 L258.8 155.7 L257.8 155.6 L256.8 155.5 L255.8 155.4 L254.8 155.3 L253.8 155.1 L252.8 155.0 L251.8 154.9 L250.8 154.7 L249.8 154.6 L248.8 154.5 L247.8 154.3 L246.8 154.2 L245.8 154.1 L244.8 153.9 L243.8 153.8 L242.8 153.6 L241.8 153.5 L240.8 153.3 L239.8 153.2 L238.8 153.0 L237.8 152.8 L236.8 152.7 L235.8 152.5 L234.8 152.3 L233.8 152.1 L232.8 151.9 L231.8 151.7 L230.8 151.5 L229.8 151.3 L228.8 151.1 L227.8 150.9 L226.8 150.7 L225.8 150.5 L224.8 150.2 L223.8 150.0 L222.8 149.8 L221.8 149.5 L220.8 149.3 L219.8 149.1 L218.8 148.8 L217.8 148.6 L216.8 148.3 L215.8 148.1 L214.8 147.8 L213.8 147.5 L212.8 147.3 L211.8 147.0 L210.8 146.8 L209.8 146.5 L208.8 146.2 L207.8 146.0 L206.8 145.7 L205.8 145.4 L204.8 145.1 L203.8 144.9 L202.8 144.6 L201.8 144.3 L200.8 144.0 L199.8 143.8 L198.8 143.5 L197.8 143.2 L196.8 142.9 L195.8 142.6 L194.8 142.3 L193.8 142.0 L192.8 141.7 L191.8 141.4 L190.8 141.1 L189.8 140.7 L188.8 140.4 L187.8 140.1 L186.8 139.7 L185.8 139.4 L184.8 139.0 L183.8 138.7 L182.8 138.3 L181.8 138.0 L180.8 137.6 L179.8 137.2 L178.8 136.9 L177.8 136.5 L176.8 136.1 L175.8 135.7 L174.8 135.3 L173.8 134.9 L172.8 134.5 L171.8 134.1 L170.8 133.6 L169.8 133.2 L168.8 132.7 L167.8 132.3 L166.8 131.8 L165.8 131.4 L164.8 130.9 L163.8 130.4 L162.8 129.9 L161.8 129.5 L160.8 129.0 L159.8 128.5 L158.8 128.0 L157.8 127.5 L156.8 126.9 L155.8 126.4 L154.8 125.9 L153.8 125.4 L152.8 124.9 L151.8 124.3 L150.8 123.8 L149.8 123.3 L148.8 122.7 L147.8 122.2 L146.8 121.7 L145.8 121.1 L144.8 120.5 L143.8 120.0 L142.8 119.4 L141.8 118.8 L140.8 118.2 L139.8 117.6 L138.8 117.0 L137.8 116.4 L136.8 115.8 L135.8 115.2 L134.8 114.6 L133.8 113.9 L132.8 113.3 L131.8 112.7 L130.8 112.1 L129.8 111.5 L128.8 110.8 L127.8 110.1 L126.8 109.4 L125.8 108.7 L124.8 108.0 L123.8 107.3 L122.8 106.6 L121.8 105.8 L120.8 105.0 L119.8 104.3 L118.8 103.5 L117.8 102.7 L116.8 101.9 L115.8 101.1 L114.8 100.3 L113.8 99.5 L112.8 98.7 L111.8 97.9 L110.8 97.0 L109.8 96.2 L108.8 95.3 L107.8 94.4 L106.8 93.5 L105.8 92.6 L104.8 91.7 L103.8 90.7 L102.8 89.7 L101.4 88.3 L100.4 87.3 L99.4 86.2 L98.4 85.2 L97.4 84.1 L96.4 83.0 L95.4 81.9 L94.4 80.8 L93.4 79.7 L92.4 78.5 L91.4 77.4 L90.4 76.3 L89.4 75.1 L88.4 74.0 L87.4 72.9 L86.4 71.8 L85.4 70.6 L84.4 69.5 L83.4 68.3 L82.4 67.2 L81.4 66.0 L80.4 64.9 L79.4 63.7 L78.4 62.5 L77.4 61.3 L76.4 60.1 L75.4 58.8 L74.4 57.6 L73.4 56.3 L72.4 55.1 L71.4 53.8 L70.4 52.5 L69.4 51.3 L68.4 50.0 L67.4 48.7 L66.4 47.3 L65.4 46.0 L64.4 44.7 L63.4 43.3 L62.4 42.0Z" fill="#0000ff"/>
<path d="M62.4 37.9 L64.6 37.9 L65.6 38.4 L66.6 38.9 L67.6 39.4 L68.6 39.9 L69.6 40.4 L70.6 40.9 L71.6 41.4 L72.6 41.9 L73.6 42.4 L74.6 42.9 L75.6 43.4 L75.6 46.4 L73.4 46.4 L72.4 45.9 L71.4 45.4 L70.4 44.9 L69.4 44.4 L68.4 43.9 L67.4 43.4 L66.4 42.9 L65.4 42.4 L64.4 41.9 L63.4 41.4 L62.4 40.9ZM79.4 46.5 L81.6 46.5 L82.6 47.0 L83.6 47.5 L84.6 48.0 L85.6 48.5 L86.6 49.0 L87.6 49.5 L88.6 50.1 L89.6 50.6 L90.6 51.1 L91.6 51.6 L92.6 52.1 L92.6 55.1 L90.4 55.1 L89.4 54.6 L88.4 54.1 L87.4 53.6 L86.4 53.1 L85.4 52.5 L84.4 52.0 L83.4 51.5 L82.4 51.0 L81.4 50.5 L80.4 50.0 L79.4 49.5ZM95.4 54.7 L97.6 54.7 L98.6 55.2 L99.6 55.7 L100.6 56.2 L101.6 56.8 L102.6 57.3 L103.6 57.8 L104.6 58.3 L105.6 58.9 L106.6 59.4 L107.6 59.9 L108.6 60.4 L109.6 61.0 L110.6 61.5 L110.6 64.5 L108.4 64.5 L107.4 64.0 L106.4 63.4 L105.4 62.9 L104.4 62.4 L103.4 61.9 L102.4 61.3 L101.4 60.8 L100.4 60.3 L99.4 59.8 L98.4 59.2 L97.4 58.7 L96.4 58.2 L95.4 57.7ZM114.4 64.7 L116.6 64.7 L117.6 65.3 L118.6 65.8 L119.6 66.4 L120.6 66.9 L121.6 67.4 L122.6 68.0 L123.6 68.5 L124.6 69.1 L125.6 69.6 L126.6 70.1 L127.6 70.7 L127.6 73.7 L125.4 73.7 L124.4 73.1 L123.4 72.6 L122.4 72.1 L121.4 71.5 L120.4 71.0 L119.4 70.4 L118.4 69.9 L117.4 69.4 L116.4 68.8 L115.4 68.3 L114.4 67.7ZM131.4 73.9 L133.6 73.9 L134.6 74.4 L135.6 74.9 L136.6 75.5 L137.6 76.0 L138.6 76.5 L139.6 77.0 L140.6 77.6 L141.6 78.1 L142.6 78.6 L143.6 79.1 L144.6 79.6 L145.6 80.1 L145.6 83.1 L143.4 83.1 L142.4 82.6 L141.4 82.1 L140.4 81.6 L139.4 81.1 L138.4 80.6 L137.4 80.0 L136.4 79.5 L135.4 79.0 L134.4 78.5 L133.4 77.9 L132.4 77.4 L131.4 76.9ZM149.4 83.1 L151.6 83.1 L152.6 83.6 L153.6 84.1 L154.6 84.6 L155.6 85.1 L156.6 85.6 L157.6 86.1 L158.6 86.6 L159.6 87.0 L160.6 87.5 L161.6 88.0 L162.6 88.5 L162.6 91.5 L160.4 91.5 L159.4 91.0 L158.4 90.5 L157.4 90.0 L156.4 89.6 L155.4 89.1 L154.4 88.6 L153.4 88.1 L152.4 87.6 L151.4 87.1 L150.4 86.6 L149.4 86.1ZM166.4 91.2 L168.6 91.2 L169.6 91.7 L170.6 92.2 L171.6 92.6 L172.6 93.1 L173.6 93.5 L174.6 93.9 L175.6 94.4 L176.6 94.8 L177.6 95.3 L178.6 95.7 L179.6 96.1 L180.6 96.5 L181.6 97.0 L181.6 100.0 L179.4 100.0 L178.4 99.5 L177.4 99.1 L176.4 98.7 L175.4 98.3 L174.4 97.8 L173.4 97.4 L172.4 96.9 L171.4 96.5 L170.4 96.1 L169.4 95.6 L168.4 95.2 L167.4 94.7 L166.4 94.2ZM185.4 99.4 L187.6 99.4 L188.6 99.8 L189.6 100.2 L190.6 100.6 L191.6 101.0 L192.6 101.4 L193.6 101.8 L194.6 102.2 L195.6 102.6 L196.6 103.0 L197.6 103.4 L198.6 103.8 L199.6 104.2 L200.6 104.6 L200.6 107.6 L198.4 107.6 L197.4 107.2 L196.4 106.8 L195.4 106.4 L194.4 106.0 L193.4 105.6 L192.4 105.2 L191.4 104.8 L190.4 104.4 L189.4 104.0 L188.4 103.6 L187.4 103.2 L186.4 102.8 L185.4 102.4ZM204.4 107.0 L206.6 107.0 L207.6 107.4 L208.6 107.8 L209.6 108.2 L210.6 108.6 L211.6 109.0 L212.6 109.4 L213.6 109.8 L214.6 110.2 L215.6 110.6 L216.6 111.0 L217.6 111.4 L218.6 111.8 L218.6 114.8 L216.4 114.8 L215.4 114.4 L214.4 114.0 L213.4 113.6 L212.4 113.2 L211.4 112.8 L210.4 112.4 L209.4 112.0 L208.4 111.6 L207.4 111.2 L206.4 110.8 L205.4 110.4 L204.4 110.0ZM222.4 114.2 L224.6 114.2 L225.6 114.6 L226.6 115.0 L227.6 115.4 L228.6 115.8 L229.6 116.2 L230.6 116.5 L231.6 116.9 L232.6 117.3 L233.6 117.7 L234.6 118.1 L235.6 118.4 L236.6 118.8 L237.6 119.2 L237.6 122.2 L235.4 122.2 L234.4 121.8 L233.4 121.4 L232.4 121.1 L231.4 120.7 L230.4 120.3 L229.4 119.9 L228.4 119.5 L227.4 119.2 L226.4 118.8 L225.4 118.4 L224.4 118.0 L223.4 117.6 L222.4 117.2ZM241.4 121.3 L243.6 121.3 L244.6 121.6 L245.6 121.9 L246.6 122.3 L247.6 122.6 L248.6 122.9 L249.6 123.2 L250.6 123.5 L251.6 123.9 L252.6 124.2 L253.6 124.5 L254.6 124.8 L255.6 125.0 L256.6 125.3 L256.6 128.3 L254.4 128.3 L253.4 128.0 L252.4 127.8 L251.4 127.5 L250.4 127.2 L249.4 126.9 L248.4 126.5 L247.4 126.2 L246.4 125.9 L245.4 125.6 L244.4 125.3 L243.4 124.9 L242.4 124.6 L241.4 124.3ZM260.4 127.0 L262.6 127.0 L263.6 127.3 L264.6 127.6 L265.6 127.9 L266.6 128.1 L267.6 128.4 L268.6 128.7 L269.6 128.9 L270.6 129.2 L271.6 129.5 L272.6 129.7 L273.6 130.0 L274.6 130.2 L275.6 130.5 L275.6 133.5 L273.4 133.5 L272.4 133.2 L271.4 133.0 L270.4 132.7 L269.4 132.5 L268.4 132.2 L267.4 131.9 L266.4 131.7 L265.4 131.4 L264.4 131.1 L263.4 130.9 L262.4 130.6 L261.4 130.3 L260.4 130.0ZM278.4 131.7 L280.6 131.7 L281.6 132.0 L282.6 132.2 L283.6 132.4 L284.6 132.7 L285.6 132.9 L286.6 133.2 L287.6 133.4 L288.6 133.6 L289.6 133.9 L290.6 134.1 L291.6 134.3 L292.6 134.6 L293.6 134.8 L294.6 135.0 L294.6 138.0 L292.4 138.0 L291.4 137.8 L290.4 137.6 L289.4 137.3 L288.4 137.1 L287.4 136.9 L286.4 136.6 L285.4 136.4 L284.4 136.2 L283.4 135.9 L282.4 135.7 L281.4 135.4 L280.4 135.2 L279.4 135.0 L278.4 134.7ZM298.4 136.4 L300.6 136.4 L301.6 136.6 L302.6 136.8 L303.6 137.1 L304.6 137.3 L305.6 137.5 L306.6 137.7 L307.6 138.0 L308.6 138.2 L309.6 138.4 L310.6 138.6 L311.6 138.8 L312.6 139.1 L313.6 139.3 L313.6 142.3 L311.4 142.3 L310.4 142.1 L309.4 141.8 L308.4 141.6 L307.4 141.4 L306.4 141.2 L305.4 141.0 L304.4 140.7 L303.4 140.5 L302.4 140.3 L301.4 140.1 L300.4 139.8 L299.4 139.6 L298.4 139.4ZM317.4 140.6 L319.6 140.6 L320.6 140.8 L321.6 141.0 L322.6 141.2 L323.6 141.4 L324.6 141.6 L325.6 141.8 L326.6 142.0 L327.6 142.2 L328.6 142.4 L329.6 142.6 L330.6 142.8 L331.6 143.0 L332.6 143.2 L333.6 143.4 L333.6 146.4 L331.4 146.4 L330.4 146.2 L329.4 146.0 L328.4 145.8 L327.4 145.6 L326.4 145.4 L325.4 145.2 L324.4 145.0 L323.4 144.8 L322.4 144.6 L321.4 144.4 L320.4 144.2 L319.4 144.0 L318.4 143.8 L317.4 143.6ZM337.4 144.5 L339.6 144.5 L340.6 144.7 L341.6 144.9 L342.6 145.1 L343.6 145.3 L344.6 145.4 L345.6 145.6 L346.6 145.8 L347.6 145.9 L348.6 146.1 L349.6 146.3 L350.6 146.4 L351.6 146.6 L352.6 146.7 L352.6 149.7 L350.4 149.7 L349.4 149.6 L348.4 149.4 L347.4 149.3 L346.4 149.1 L345.4 148.9 L344.4 148.8 L343.4 148.6 L342.4 148.4 L341.4 148.3 L340.4 148.1 L339.4 147.9 L338.4 147.7 L337.4 147.5ZM356.4 147.7 L358.6 147.7 L359.6 147.8 L360.6 148.0 L361.6 148.1 L362.6 148.3 L363.6 148.4 L364.6 148.6 L365.6 148.7 L366.6 148.9 L367.6 149.0 L368.6 149.2 L369.6 149.3 L370.6 149.5 L371.6 149.6 L372.6 149.8 L372.6 152.8 L370.4 152.8 L369.4 152.6 L368.4 152.5 L367.4 152.3 L366.4 152.2 L365.4 152.0 L364.4 151.9 L363.4 151.7 L362.4 151.6 L361.4 151.4 L360.4 151.3 L359.4 151.1 L358.4 151.0 L357.4 150.8 L356.4 150.7ZM376.4 150.6 L378.6 150.6 L379.6 150.8 L380.6 150.9 L381.6 151.1 L382.6 151.2 L383.6 151.3 L384.6 151.5 L385.6 151.6 L386.6 151.8 L387.6 151.9 L388.6 152.0 L389.6 152.2 L390.6 152.3 L391.6 152.4 L392.6 152.6 L392.6 155.6 L390.4 155.6 L389.4 155.4 L388.4 155.3 L387.4 155.2 L386.4 155.0 L385.4 154.9 L384.4 154.8 L383.4 154.6 L382.4 154.5 L381.4 154.3 L380.4 154.2 L379.4 154.1 L378.4 153.9 L377.4 153.8 L376.4 153.6ZM396.4 153.3 L398.6 153.3 L399.6 153.4 L400.6 153.6 L401.6 153.7 L402.6 153.8 L403.6 153.9 L404.6 154.0 L405.6 154.2 L406.6 154.3 L407.6 154.4 L408.6 154.5 L409.6 154.6 L410.6 154.7 L411.6 154.8 L412.6 155.0 L413.6 155.1 L414.6 155.2 L415.6 155.3 L416.6 155.4 L417.6 155.5 L418.6 155.6 L418.6 158.6 L416.4 158.6 L415.4 158.5 L414.4 158.4 L413.4 158.3 L412.4 158.2 L411.4 158.1 L410.4 158.0 L409.4 157.8 L408.4 157.7 L407.4 157.6 L406.4 157.5 L405.4 157.4 L404.4 157.3 L403.4 157.2 L402.4 157.0 L401.4 156.9 L400.4 156.8 L399.4 156.7 L398.4 156.6 L397.4 156.4 L396.4 156.3ZM422.4 156.2 L424.6 156.2 L425.6 156.3 L426.6 156.4 L427.6 156.4 L428.6 156.5 L429.6 156.6 L430.6 156.7 L431.6 156.8 L432.6 156.9 L432.6 159.9 L430.4 159.9 L429.4 159.8 L428.4 159.7 L427.4 159.6 L426.4 159.5 L425.4 159.4 L424.4 159.4 L423.4 159.3 L422.4 159.2Z" fill="#ff00ff"/>
<path id="tb3" d="M62.4 41.0 L65.4 41.0 L66.4 43.2 L67.4 45.3 L68.4 47.4 L69.4 49.5 L70.4 51.5 L71.4 53.5 L72.4 55.5 L73.4 57.4 L74.4 59.3 L75.4 61.2 L76.4 63.1 L77.4 64.9 L78.4 66.7 L79.4 68.5 L80.4 70.3 L81.4 72.0 L82.4 73.7 L83.4 75.4 L84.4 77.1 L85.4 78.8 L86.4 80.4 L87.4 82.0 L88.4 83.6 L89.4 85.1 L90.4 86.7 L91.4 88.2 L92.4 89.8 L93.4 91.3 L94.4 92.7 L95.4 94.2 L96.4 95.7 L97.4 97.1 L98.4 98.5 L99.4 99.9 L100.4 101.3 L101.4 102.7 L102.4 104.0 L103.4 105.4 L104.4 106.7 L105.4 108.0 L106.4 109.3 L107.4 110.6 L108.4 111.9 L109.4 113.2 L110.4 114.5 L111.4 115.8 L112.4 117.0 L113.4 118.3 L114.4 119.5 L115.4 120.8 L116.4 122.0 L117.4 123.2 L118.4 124.3 L119.4 125.5 L120.4 126.7 L121.4 127.8 L122.4 128.9 L123.4 130.0 L124.4 131.1 L125.4 132.2 L126.4 133.2 L127.4 134.3 L128.4 135.3 L129.4 136.4 L130.4 137.4 L131.4 138.5 L132.4 139.5 L133.4 140.5 L134.4 141.5 L135.0 142.1 L136.0 143.1 L137.0 144.1 L138.0 145.1 L139.0 146.0 L140.0 146.9 L141.0 147.8 L142.0 148.7 L143.0 149.6 L144.0 150.4 L145.0 151.3 L146.0 152.1 L147.0 152.9 L148.0 153.7 L149.0 154.4 L150.0 155.2 L151.0 155.9 L152.0 156.7 L153.0 157.4 L154.0 158.1 L155.0 158.8 L156.0 159.5 L157.0 160.2 L158.0 160.8 L159.0 161.5 L160.0 162.1 L161.0 162.8 L162.0 163.4 L163.0 164.0 L164.0 164.6 L165.0 165.2 L166.0 165.8 L167.0 166.4 L168.0 166.9 L169.0 167.5 L170.0 168.0 L171.0 168.6 L172.0 169.1 L173.0 169.6 L174.0 170.1 L175.0 170.7 L176.0 171.2 L177.0 171.7 L178.0 172.2 L179.0 172.6 L180.0 173.1 L181.0 173.6 L182.0 174.1 L183.0 174.6 L184.0 175.1 L185.0 175.5 L186.0 176.0 L187.0 176.5 L188.0 176.9 L189.0 177.4 L190.0 177.9 L191.0 178.3 L192.0 178.8 L193.0 179.2 L194.0 179.7 L195.0 180.1 L196.0 180.5 L197.0 180.9 L198.0 181.3 L199.0 181.7 L200.0 182.1 L201.0 182.5 L202.0 182.8 L203.0 183.2 L204.0 183.5 L205.0 183.9 L206.0 184.2 L207.0 184.6 L208.0 184.9 L209.0 185.2 L210.0 185.6 L211.0 185.9 L212.0 186.2 L213.0 186.5 L214.0 186.8 L215.0 187.1 L216.0 187.4 L217.0 187.7 L218.0 187.9 L219.0 188.2 L220.0 188.5 L221.0 188.7 L222.0 189.0 L223.0 189.2 L224.0 189.5 L225.0 189.7 L226.0 189.9 L227.0 190.2 L228.0 190.4 L229.0 190.6 L230.0 190.8 L231.0 191.0 L232.0 191.2 L233.0 191.4 L234.0 191.6 L235.0 191.8 L236.0 192.0 L237.0 192.2 L238.0 192.4 L239.0 192.5 L240.0 192.7 L241.0 192.9 L242.0 193.1 L243.0 193.2 L244.0 193.4 L245.0 193.5 L246.0 193.7 L247.0 193.8 L248.0 194.0 L249.0 194.2 L250.0 194.3 L251.0 194.5 L252.0 194.6 L253.0 194.8 L254.0 194.9 L255.0 195.1 L256.0 195.2 L257.0 195.4 L258.0 195.5 L259.0 195.6 L260.0 195.7 L261.0 195.8 L262.0 195.9 L263.0 196.0 L264.0 196.1 L265.0 196.1 L266.0 196.2 L267.0 196.2 L268.0 196.2 L269.0 196.3 L270.0 196.3 L271.0 196.3 L272.0 196.4 L273.0 196.4 L274.0 196.4 L275.0 196.4 L276.0 196.5 L277.0 196.5 L278.0 196.5 L279.0 196.5 L280.0 196.6 L281.0 196.6 L282.0 196.6 L283.0 196.6 L284.0 196.6 L285.0 196.7 L286.0 196.7 L287.0 196.7 L288.0 196.7 L289.0 196.7 L290.0 196.7 L291.0 196.7 L292.0 196.8 L293.0 196.8 L294.0 196.8 L295.0 196.8 L296.0 196.8 L297.0 196.8 L298.0 196.8 L299.0 196.8 L300.0 196.8 L301.0 196.8 L301.0 199.8 L298.8 199.8 L297.8 199.8 L296.8 199.8 L295.8 199.8 L294.8 199.8 L293.8 199.8 L292.8 199.8 L291.8 199.8 L290.8 199.8 L289.8 199.8 L288.8 199.7 L287.8 199.7 L286.8 199.7 L285.8 199.7 L284.8 199.7 L283.8 199.7 L282.8 199.7 L281.8 199.6 L280.8 199.6 L279.8 199.6 L278.8 199.6 L277.8 199.6 L276.8 199.5 L275.8 199.5 L274.8 199.5 L273.8 199.5 L272.8 199.4 L271.8 199.4 L270.8 199.4 L269.8 199.4 L268.8 199.3 L267.8 199.3 L266.8 199.3 L265.8 199.2 L264.8 199.2 L263.8 199.2 L262.8 199.1 L261.8 199.1 L260.8 199.0 L259.8 198.9 L258.8 198.8 L257.8 198.7 L256.8 198.6 L255.8 198.5 L254.8 198.4 L253.8 198.2 L252.8 198.1 L251.8 197.9 L250.8 197.8 L249.8 197.6 L248.8 197.5 L247.8 197.3 L246.8 197.2 L245.8 197.0 L244.8 196.8 L243.8 196.7 L242.8 196.5 L241.8 196.4 L240.8 196.2 L239.8 196.1 L238.8 195.9 L237.8 195.7 L236.8 195.5 L235.8 195.4 L234.8 195.2 L233.8 195.0 L232.8 194.8 L231.8 194.6 L230.8 194.4 L229.8 194.2 L228.8 194.0 L227.8 193.8 L226.8 193.6 L225.8 193.4 L224.8 193.2 L223.8 192.9 L222.8 192.7 L221.8 192.5 L220.8 192.2 L219.8 192.0 L218.8 191.7 L217.8 191.5 L216.8 191.2 L215.8 190.9 L214.8 190.7 L213.8 190.4 L212.8 190.1 L211.8 189.8 L210.8 189.5 L209.8 189.2 L208.8 188.9 L207.8 188.6 L206.8 188.2 L205.8 187.9 L204.8 187.6 L203.8 187.2 L202.8 186.9 L201.8 186.5 L200.8 186.2 L199.8 185.8 L198.8 185.5 L197.8 185.1 L196.8 184.7 L195.8 184.3 L194.8 183.9 L193.8 183.5 L192.8 183.1 L191.8 182.7 L190.8 182.2 L189.8 181.8 L188.8 181.3 L187.8 180.9 L186.8 180.4 L185.8 179.9 L184.8 179.5 L183.8 179.0 L182.8 178.5 L181.8 178.1 L180.8 177.6 L179.8 177.1 L178.8 176.6 L177.8 176.1 L176.8 175.6 L175.8 175.2 L174.8 174.7 L173.8 174.2 L172.8 173.7 L171.8 173.1 L170.8 172.6 L169.8 172.1 L168.8 171.6 L167.8 171.0 L166.8 170.5 L165.8 169.9 L164.8 169.4 L163.8 168.8 L162.8 168.2 L161.8 167.6 L160.8 167.0 L159.8 166.4 L158.8 165.8 L157.8 165.1 L156.8 164.5 L155.8 163.8 L154.8 163.2 L153.8 162.5 L152.8 161.8 L151.8 161.1 L150.8 160.4 L149.8 159.7 L148.8 158.9 L147.8 158.2 L146.8 157.4 L145.8 156.7 L144.8 155.9 L143.8 155.1 L142.8 154.3 L141.8 153.4 L140.8 152.6 L139.8 151.7 L138.8 150.8 L137.8 149.9 L136.8 149.0 L135.8 148.1 L134.8 147.1 L133.8 146.1 L132.8 145.1 L131.4 143.7 L130.4 142.7 L129.4 141.7 L128.4 140.7 L127.4 139.6 L126.4 138.6 L125.4 137.5 L124.4 136.5 L123.4 135.4 L122.4 134.4 L121.4 133.3 L120.4 132.2 L119.4 131.1 L118.4 130.0 L117.4 128.9 L116.4 127.7 L115.4 126.5 L114.4 125.4 L113.4 124.2 L112.4 123.0 L111.4 121.7 L110.4 120.5 L109.4 119.2 L108.4 118.0 L107.4 116.7 L106.4 115.4 L105.4 114.1 L104.4 112.8 L103.4 111.5 L102.4 110.2 L101.4 108.9 L100.4 107.6 L99.4 106.2 L98.4 104.9 L97.4 103.5 L96.4 102.1 L95.4 100.7 L94.4 99.3 L93.4 97.9 L92.4 96.4 L91.4 94.9 L90.4 93.5 L89.4 92.0 L88.4 90.4 L87.4 88.9 L86.4 87.3 L85.4 85.8 L84.4 84.2 L83.4 82.6 L82.4 81.0 L81.4 79.3 L80.4 77.6 L79.4 75.9 L78.4 74.2 L77.4 72.5 L76.4 70.7 L75.4 68.9 L74.4 67.1 L73.4 65.3 L72.4 63.4 L71.4 61.5 L70.4 59.6 L69.4 57.7 L68.4 55.7 L67.4 53.7 L66.4 51.7 L65.4 49.6 L64.4 47.5 L63.4 45.4 L62.4 43.2ZM298.8 196.8 L299.8 196.8 L300.8 196.8 L301.8 196.8 L302.8 196.8 L303.8 196.8 L304.8 196.8 L305.8 196.7 L306.8 196.7 L307.8 196.7 L308.8 196.7 L309.8 196.7 L310.8 196.6 L311.8 196.6 L312.8 196.6 L313.8 196.5 L314.8 196.5 L315.8 196.5 L316.8 196.4 L317.8 196.4 L318.8 196.4 L319.8 196.3 L320.8 196.3 L321.8 196.3 L322.8 196.2 L323.8 196.2 L324.8 196.1 L325.8 196.1 L326.8 196.0 L327.8 196.0 L328.8 196.0 L329.8 195.9 L330.8 195.9 L331.8 195.8 L332.8 195.8 L333.8 195.7 L334.8 195.7 L335.8 195.6 L336.8 195.6 L337.8 195.5 L338.8 195.4 L339.8 195.3 L340.8 195.3 L341.8 195.2 L342.8 195.1 L343.8 195.0 L344.8 195.0 L345.8 194.9 L346.8 194.8 L347.8 194.7 L348.8 194.7 L349.8 194.6 L350.8 194.5 L351.8 194.4 L352.8 194.4 L353.8 194.3 L354.8 194.2 L355.8 194.1 L356.8 194.0 L357.8 194.0 L358.8 193.9 L359.8 193.8 L360.8 193.7 L361.8 193.6 L362.8 193.5 L363.8 193.5 L364.8 193.4 L365.8 193.3 L366.8 193.2 L367.8 193.1 L368.8 193.0 L369.8 192.9 L370.8 192.8 L371.8 192.7 L372.8 192.7 L373.8 192.6 L374.8 192.5 L375.8 192.4 L376.8 192.3 L377.8 192.2 L378.8 192.1 L379.8 192.0 L380.8 191.9 L381.8 191.8 L382.8 191.7 L383.8 191.6 L384.8 191.6 L385.8 191.5 L386.8 191.4 L387.8 191.3 L388.8 191.2 L389.8 191.1 L390.8 191.0 L391.8 190.9 L392.8 190.8 L393.8 190.7 L394.8 190.6 L395.8 190.5 L396.8 190.4 L397.8 190.2 L398.8 190.1 L399.8 190.0 L400.8 189.9 L401.8 189.8 L402.8 189.7 L403.8 189.6 L404.8 189.5 L405.8 189.4 L406.8 189.3 L407.8 189.1 L408.8 189.0 L409.8 188.9 L410.8 188.8 L411.8 188.7 L412.8 188.6 L413.8 188.5 L414.8 188.4 L415.8 188.3 L416.8 188.1 L417.8 188.0 L418.8 187.9 L419.8 187.8 L420.8 187.7 L421.8 187.6 L422.8 187.5 L423.8 187.3 L424.8 187.2 L425.8 187.1 L426.8 187.0 L427.8 186.9 L428.8 186.8 L429.8 186.6 L430.4 186.6 L432.6 186.6 L432.6 189.6 L432.0 189.6 L431.0 189.8 L430.0 189.9 L429.0 190.0 L428.0 190.1 L427.0 190.2 L426.0 190.3 L425.0 190.5 L424.0 190.6 L423.0 190.7 L422.0 190.8 L421.0 190.9 L420.0 191.0 L419.0 191.1 L418.0 191.3 L417.0 191.4 L416.0 191.5 L415.0 191.6 L414.0 191.7 L413.0 191.8 L412.0 191.9 L411.0 192.0 L410.0 192.1 L409.0 192.3 L408.0 192.4 L407.0 192.5 L406.0 192.6 L405.0 192.7 L404.0 192.8 L403.0 192.9 L402.0 193.0 L401.0 193.1 L400.0 193.2 L399.0 193.4 L398.0 193.5 L397.0 193.6 L396.0 193.7 L395.0 193.8 L394.0 193.9 L393.0 194.0 L392.0 194.1 L391.0 194.2 L390.0 194.3 L389.0 194.4 L388.0 194.5 L387.0 194.6 L386.0 194.6 L385.0 194.7 L384.0 194.8 L383.0 194.9 L382.0 195.0 L381.0 195.1 L380.0 195.2 L379.0 195.3 L378.0 195.4 L377.0 195.5 L376.0 195.6 L375.0 195.7 L374.0 195.7 L373.0 195.8 L372.0 195.9 L371.0 196.0 L370.0 196.1 L369.0 196.2 L368.0 196.3 L367.0 196.4 L366.0 196.5 L365.0 196.5 L364.0 196.6 L363.0 196.7 L362.0 196.8 L361.0 196.9 L360.0 197.0 L359.0 197.0 L358.0 197.1 L357.0 197.2 L356.0 197.3 L355.0 197.4 L354.0 197.4 L353.0 197.5 L352.0 197.6 L351.0 197.7 L350.0 197.7 L349.0 197.8 L348.0 197.9 L347.0 198.0 L346.0 198.0 L345.0 198.1 L344.0 198.2 L343.0 198.3 L342.0 198.3 L341.0 198.4 L340.0 198.5 L339.0 198.6 L338.0 198.6 L337.0 198.7 L336.0 198.7 L335.0 198.8 L334.0 198.8 L333.0 198.9 L332.0 198.9 L331.0 199.0 L330.0 199.0 L329.0 199.0 L328.0 199.1 L327.0 199.1 L326.0 199.2 L325.0 199.2 L324.0 199.3 L323.0 199.3 L322.0 199.3 L321.0 199.4 L320.0 199.4 L319.0 199.4 L318.0 199.5 L317.0 199.5 L316.0 199.5 L315.0 199.6 L314.0 199.6 L313.0 199.6 L312.0 199.7 L311.0 199.7 L310.0 199.7 L309.0 199.7 L308.0 199.7 L307.0 199.8 L306.0 199.8 L305.0 199.8 L304.0 199.8 L303.0 199.8 L302.0 199.8 L301.0 199.8 L298.8 199.8Z" fill="#0000ff"/>
<path d="M62.4 37.6 L64.6 37.6 L65.6 37.8 L66.6 38.1 L67.6 38.3 L68.6 38.6 L69.6 38.8 L70.6 39.1 L71.6 39.4 L72.6 39.7 L73.6 39.9 L74.6 40.2 L75.6 40.5 L75.6 43.5 L73.4 43.5 L72.4 43.2 L71.4 42.9 L70.4 42.7 L69.4 42.4 L68.4 42.1 L67.4 41.8 L66.4 41.6 L65.4 41.3 L64.4 41.1 L63.4 40.8 L62.4 40.6ZM79.4 42.4 L81.6 42.4 L82.6 42.7 L83.6 43.0 L84.6 43.4 L85.6 43.7 L86.6 44.1 L87.6 44.4 L88.6 44.8 L89.6 45.2 L90.6 45.6 L91.6 45.9 L92.6 46.3 L93.6 46.7 L94.6 47.1 L94.6 50.1 L92.4 50.1 L91.4 49.7 L90.4 49.3 L89.4 48.9 L88.4 48.6 L87.4 48.2 L86.4 47.8 L85.4 47.4 L84.4 47.1 L83.4 46.7 L82.4 46.4 L81.4 46.0 L80.4 45.7 L79.4 45.4ZM98.4 49.5 L100.6 49.5 L101.6 49.9 L102.6 50.3 L103.6 50.7 L104.6 51.1 L105.6 51.5 L106.6 51.8 L107.6 52.2 L108.6 52.6 L109.6 53.0 L110.6 53.4 L111.6 53.8 L112.6 54.2 L113.6 54.6 L113.6 57.6 L111.4 57.6 L110.4 57.2 L109.4 56.8 L108.4 56.4 L107.4 56.0 L106.4 55.6 L105.4 55.2 L104.4 54.8 L103.4 54.5 L102.4 54.1 L101.4 53.7 L100.4 53.3 L99.4 52.9 L98.4 52.5ZM117.4 57.0 L119.6 57.0 L120.6 57.4 L121.6 57.8 L122.6 58.2 L123.6 58.6 L124.6 59.1 L125.6 59.5 L126.6 59.9 L127.6 60.3 L128.6 60.7 L129.6 61.1 L130.6 61.5 L131.6 62.0 L132.6 62.4 L132.6 65.4 L130.4 65.4 L129.4 65.0 L128.4 64.5 L127.4 64.1 L126.4 63.7 L125.4 63.3 L124.4 62.9 L123.4 62.5 L122.4 62.1 L121.4 61.6 L120.4 61.2 L119.4 60.8 L118.4 60.4 L117.4 60.0ZM135.4 64.5 L137.6 64.5 L138.6 64.9 L139.6 65.3 L140.6 65.7 L141.6 66.1 L142.6 66.5 L143.6 66.9 L144.6 67.4 L145.6 67.8 L146.6 68.2 L147.6 68.6 L148.6 69.0 L149.6 69.4 L150.6 69.8 L150.6 72.8 L148.4 72.8 L147.4 72.4 L146.4 72.0 L145.4 71.6 L144.4 71.2 L143.4 70.8 L142.4 70.4 L141.4 69.9 L140.4 69.5 L139.4 69.1 L138.4 68.7 L137.4 68.3 L136.4 67.9 L135.4 67.5ZM153.4 71.8 L155.6 71.8 L156.6 72.2 L157.6 72.6 L158.6 73.0 L159.6 73.4 L160.6 73.8 L161.6 74.2 L162.6 74.6 L163.6 75.0 L164.6 75.4 L165.6 75.8 L166.6 76.2 L167.6 76.6 L168.6 76.9 L168.6 79.9 L166.4 79.9 L165.4 79.6 L164.4 79.2 L163.4 78.8 L162.4 78.4 L161.4 78.0 L160.4 77.6 L159.4 77.2 L158.4 76.8 L157.4 76.4 L156.4 76.0 L155.4 75.6 L154.4 75.2 L153.4 74.8ZM172.4 79.3 L174.6 79.3 L175.6 79.7 L176.6 80.1 L177.6 80.5 L178.6 80.9 L179.6 81.3 L180.6 81.7 L181.6 82.1 L182.6 82.5 L183.6 82.8 L184.6 83.2 L185.6 83.6 L186.6 84.0 L187.6 84.4 L187.6 87.4 L185.4 87.4 L184.4 87.0 L183.4 86.6 L182.4 86.2 L181.4 85.8 L180.4 85.5 L179.4 85.1 L178.4 84.7 L177.4 84.3 L176.4 83.9 L175.4 83.5 L174.4 83.1 L173.4 82.7 L172.4 82.3ZM190.4 86.4 L192.6 86.4 L193.6 86.8 L194.6 87.2 L195.6 87.5 L196.6 87.9 L197.6 88.3 L198.6 88.7 L199.6 89.1 L200.6 89.5 L201.6 89.9 L202.6 90.3 L203.6 90.7 L204.6 91.1 L205.6 91.5 L205.6 94.5 L203.4 94.5 L202.4 94.1 L201.4 93.7 L200.4 93.3 L199.4 92.9 L198.4 92.5 L197.4 92.1 L196.4 91.7 L195.4 91.3 L194.4 90.9 L193.4 90.5 L192.4 90.2 L191.4 89.8 L190.4 89.4ZM209.4 93.9 L211.6 93.9 L212.6 94.3 L213.6 94.7 L214.6 95.1 L215.6 95.5 L216.6 95.8 L217.6 96.2 L218.6 96.6 L219.6 97.0 L220.6 97.4 L221.6 97.8 L222.6 98.2 L223.6 98.6 L224.6 98.9 L224.6 101.9 L222.4 101.9 L221.4 101.6 L220.4 101.2 L219.4 100.8 L218.4 100.4 L217.4 100.0 L216.4 99.6 L215.4 99.2 L214.4 98.8 L213.4 98.5 L212.4 98.1 L211.4 97.7 L210.4 97.3 L209.4 96.9ZM228.4 101.2 L230.6 101.2 L231.6 101.5 L232.6 101.9 L233.6 102.3 L234.6 102.6 L235.6 103.0 L236.6 103.4 L237.6 103.7 L238.6 104.1 L239.6 104.4 L240.6 104.8 L241.6 105.2 L242.6 105.5 L243.6 105.9 L243.6 108.9 L241.4 108.9 L240.4 108.5 L239.4 108.2 L238.4 107.8 L237.4 107.4 L236.4 107.1 L235.4 106.7 L234.4 106.4 L233.4 106.0 L232.4 105.6 L231.4 105.3 L230.4 104.9 L229.4 104.5 L228.4 104.2ZM247.4 107.9 L249.6 107.9 L250.6 108.2 L251.6 108.6 L252.6 108.9 L253.6 109.2 L254.6 109.5 L255.6 109.9 L256.6 110.2 L257.6 110.5 L258.6 110.8 L259.6 111.1 L260.6 111.5 L261.6 111.8 L261.6 114.8 L259.4 114.8 L258.4 114.5 L257.4 114.1 L256.4 113.8 L255.4 113.5 L254.4 113.2 L253.4 112.9 L252.4 112.5 L251.4 112.2 L250.4 111.9 L249.4 111.6 L248.4 111.2 L247.4 110.9ZM265.4 113.6 L267.6 113.6 L268.6 113.9 L269.6 114.2 L270.6 114.5 L271.6 114.8 L272.6 115.1 L273.6 115.4 L274.6 115.7 L275.6 116.0 L276.6 116.2 L277.6 116.5 L278.6 116.8 L279.6 117.1 L280.6 117.4 L281.6 117.6 L281.6 120.6 L279.4 120.6 L278.4 120.4 L277.4 120.1 L276.4 119.8 L275.4 119.5 L274.4 119.2 L273.4 119.0 L272.4 118.7 L271.4 118.4 L270.4 118.1 L269.4 117.8 L268.4 117.5 L267.4 117.2 L266.4 116.9 L265.4 116.6ZM284.4 118.9 L286.6 118.9 L287.6 119.2 L288.6 119.5 L289.6 119.7 L290.6 120.0 L291.6 120.2 L292.6 120.5 L293.6 120.8 L294.6 121.0 L295.6 121.3 L296.6 121.5 L297.6 121.8 L298.6 122.0 L299.6 122.3 L300.6 122.6 L300.6 125.6 L298.4 125.6 L297.4 125.3 L296.4 125.0 L295.4 124.8 L294.4 124.5 L293.4 124.3 L292.4 124.0 L291.4 123.8 L290.4 123.5 L289.4 123.2 L288.4 123.0 L287.4 122.7 L286.4 122.5 L285.4 122.2 L284.4 121.9ZM304.4 124.1 L306.6 124.1 L307.6 124.4 L308.6 124.7 L309.6 124.9 L310.6 125.2 L311.6 125.5 L312.6 125.7 L313.6 126.0 L314.6 126.3 L315.6 126.5 L316.6 126.8 L317.6 127.0 L318.6 127.3 L319.6 127.5 L319.6 130.5 L317.4 130.5 L316.4 130.3 L315.4 130.0 L314.4 129.8 L313.4 129.5 L312.4 129.3 L311.4 129.0 L310.4 128.7 L309.4 128.5 L308.4 128.2 L307.4 127.9 L306.4 127.7 L305.4 127.4 L304.4 127.1ZM323.4 129.1 L325.6 129.1 L326.6 129.3 L327.6 129.6 L328.6 129.8 L329.6 130.1 L330.6 130.3 L331.6 130.6 L332.6 130.8 L333.6 131.1 L334.6 131.3 L335.6 131.6 L336.6 131.9 L337.6 132.1 L338.6 132.3 L338.6 135.3 L336.4 135.3 L335.4 135.1 L334.4 134.9 L333.4 134.6 L332.4 134.3 L331.4 134.1 L330.4 133.8 L329.4 133.6 L328.4 133.3 L327.4 133.1 L326.4 132.8 L325.4 132.6 L324.4 132.3 L323.4 132.1ZM342.4 133.8 L344.6 133.8 L345.6 134.0 L346.6 134.2 L347.6 134.5 L348.6 134.7 L349.6 134.9 L350.6 135.1 L351.6 135.3 L352.6 135.5 L353.6 135.7 L354.6 135.9 L355.6 136.1 L356.6 136.3 L357.6 136.5 L358.6 136.7 L358.6 139.7 L356.4 139.7 L355.4 139.5 L354.4 139.3 L353.4 139.1 L352.4 138.9 L351.4 138.7 L350.4 138.5 L349.4 138.3 L348.4 138.1 L347.4 137.9 L346.4 137.7 L345.4 137.5 L344.4 137.2 L343.4 137.0 L342.4 136.8ZM362.4 137.9 L364.6 137.9 L365.6 138.1 L366.6 138.3 L367.6 138.5 L368.6 138.7 L369.6 138.9 L370.6 139.0 L371.6 139.2 L372.6 139.4 L373.6 139.6 L374.6 139.8 L375.6 140.0 L376.6 140.2 L376.6 143.2 L374.4 143.2 L373.4 143.0 L372.4 142.8 L371.4 142.6 L370.4 142.4 L369.4 142.2 L368.4 142.0 L367.4 141.9 L366.4 141.7 L365.4 141.5 L364.4 141.3 L363.4 141.1 L362.4 140.9ZM382.4 141.6 L384.6 141.6 L385.6 141.8 L386.6 142.0 L387.6 142.2 L388.6 142.3 L389.6 142.5 L390.6 142.7 L391.6 142.9 L392.6 143.0 L393.6 143.2 L394.6 143.4 L395.6 143.5 L396.6 143.7 L396.6 146.7 L394.4 146.7 L393.4 146.5 L392.4 146.4 L391.4 146.2 L390.4 146.0 L389.4 145.9 L388.4 145.7 L387.4 145.5 L386.4 145.3 L385.4 145.2 L384.4 145.0 L383.4 144.8 L382.4 144.6ZM401.4 144.8 L403.6 144.8 L404.6 145.0 L405.6 145.1 L406.6 145.3 L407.6 145.4 L408.6 145.6 L409.6 145.7 L410.6 145.9 L411.6 146.0 L412.6 146.2 L413.6 146.3 L414.6 146.5 L415.6 146.6 L416.6 146.7 L417.6 146.9 L417.6 149.9 L415.4 149.9 L414.4 149.7 L413.4 149.6 L412.4 149.5 L411.4 149.3 L410.4 149.2 L409.4 149.0 L408.4 148.9 L407.4 148.7 L406.4 148.6 L405.4 148.4 L404.4 148.3 L403.4 148.1 L402.4 148.0 L401.4 147.8ZM421.4 147.7 L423.6 147.7 L424.6 147.8 L425.6 147.9 L426.6 148.0 L427.6 148.2 L428.6 148.3 L429.6 148.4 L430.6 148.5 L431.6 148.6 L432.6 148.7 L432.6 151.7 L430.4 151.7 L429.4 151.6 L428.4 151.5 L427.4 151.4 L426.4 151.3 L425.4 151.2 L424.4 151.0 L423.4 150.9 L422.4 150.8 L421.4 150.7Z" fill="#ff00ff"/>
<path id="bb1" d="M63.0 266.3 L65.2 266.3 L66.2 266.6 L67.2 266.9 L68.2 267.2 L69.2 267.5 L70.2 267.8 L71.2 268.2 L72.2 268.5 L73.2 268.8 L74.2 269.1 L75.2 269.4 L76.2 269.7 L77.2 270.0 L78.2 270.3 L79.2 270.7 L80.2 271.0 L81.2 271.3 L82.2 271.6 L83.2 271.9 L84.2 272.2 L85.2 272.5 L86.2 272.8 L87.2 273.2 L88.2 273.5 L89.2 273.8 L90.2 274.1 L91.2 274.4 L92.2 274.7 L93.2 275.0 L94.2 275.3 L95.2 275.7 L96.2 276.0 L97.2 276.3 L98.2 276.6 L99.2 276.9 L100.2 277.2 L101.2 277.5 L102.2 277.8 L103.2 278.2 L104.2 278.5 L105.2 278.8 L106.2 279.1 L107.2 279.5 L108.2 279.8 L109.2 280.1 L110.2 280.4 L111.2 280.8 L112.2 281.1 L113.2 281.4 L114.2 281.7 L115.2 282.1 L116.2 282.4 L117.2 282.7 L118.2 283.0 L119.2 283.4 L120.2 283.7 L121.2 284.0 L122.2 284.3 L123.2 284.7 L124.2 285.0 L125.2 285.3 L126.2 285.6 L127.2 285.9 L128.2 286.3 L129.2 286.6 L130.2 286.9 L131.2 287.2 L132.2 287.5 L133.2 287.8 L134.2 288.1 L135.2 288.5 L136.2 288.8 L137.2 289.1 L138.2 289.4 L139.2 289.7 L140.2 290.0 L141.2 290.2 L142.2 290.5 L143.2 290.8 L144.2 291.1 L145.2 291.4 L146.2 291.7 L147.2 292.0 L148.2 292.2 L149.2 292.5 L150.2 292.8 L151.2 293.0 L152.2 293.3 L153.2 293.5 L154.2 293.8 L155.2 294.1 L156.2 294.3 L157.2 294.6 L158.2 294.8 L159.2 295.1 L160.2 295.4 L161.2 295.6 L162.2 295.9 L163.2 296.1 L164.2 296.4 L165.2 296.6 L166.2 296.9 L167.2 297.2 L168.2 297.4 L169.2 297.7 L170.2 297.9 L171.2 298.2 L172.2 298.4 L173.2 298.7 L174.2 298.9 L175.2 299.2 L176.2 299.4 L177.2 299.7 L178.2 299.9 L179.2 300.1 L180.2 300.4 L181.2 300.6 L182.2 300.9 L183.2 301.1 L184.2 301.4 L185.2 301.6 L186.2 301.8 L187.2 302.1 L188.2 302.3 L189.2 302.6 L190.2 302.8 L191.2 303.0 L192.2 303.3 L193.2 303.5 L194.2 303.7 L195.2 304.0 L196.2 304.2 L197.2 304.4 L198.2 304.7 L199.2 304.9 L200.2 305.1 L201.2 305.3 L202.2 305.6 L203.2 305.8 L204.2 306.0 L205.2 306.2 L206.2 306.4 L207.2 306.7 L208.2 306.9 L209.2 307.1 L210.2 307.3 L211.2 307.5 L212.2 307.7 L213.2 308.0 L214.2 308.2 L215.2 308.4 L216.2 308.6 L217.2 308.8 L218.2 309.0 L219.2 309.2 L220.2 309.4 L221.2 309.6 L222.2 309.8 L223.2 310.0 L224.2 310.2 L225.2 310.4 L226.2 310.6 L227.2 310.8 L228.2 311.0 L229.2 311.2 L230.2 311.4 L231.2 311.6 L232.2 311.7 L233.2 311.9 L234.2 312.1 L235.2 312.3 L236.2 312.5 L237.2 312.7 L238.2 312.8 L239.2 313.0 L240.2 313.2 L241.2 313.4 L242.2 313.5 L243.2 313.7 L244.2 313.9 L245.2 314.0 L246.2 314.2 L247.2 314.4 L248.2 314.5 L249.2 314.7 L250.2 314.9 L251.2 315.0 L252.2 315.2 L253.2 315.3 L254.2 315.5 L255.2 315.6 L256.2 315.8 L257.2 315.9 L258.2 316.1 L259.2 316.2 L260.2 316.4 L261.2 316.5 L262.2 316.7 L263.2 316.8 L264.2 317.0 L265.2 317.1 L266.2 317.3 L267.2 317.4 L268.2 317.6 L269.2 317.7 L270.2 317.8 L271.2 318.0 L272.2 318.1 L273.2 318.3 L274.2 318.4 L275.2 318.5 L276.2 318.7 L277.2 318.8 L278.2 318.9 L279.2 319.1 L280.2 319.2 L281.2 319.3 L282.2 319.5 L283.2 319.6 L284.2 319.7 L285.2 319.9 L286.2 320.0 L287.2 320.1 L288.2 320.3 L289.2 320.4 L290.2 320.5 L291.2 320.6 L292.2 320.8 L293.2 320.9 L294.2 321.0 L295.2 321.1 L296.2 321.3 L297.2 321.4 L298.2 321.5 L299.2 321.6 L300.2 321.7 L301.2 321.9 L302.2 322.0 L303.2 322.1 L304.2 322.2 L305.2 322.3 L306.2 322.4 L307.2 322.6 L308.2 322.7 L309.2 322.8 L310.2 322.9 L311.2 323.0 L312.2 323.1 L313.2 323.2 L314.2 323.4 L315.2 323.5 L316.2 323.6 L317.2 323.7 L318.2 323.8 L319.2 323.9 L320.2 324.0 L321.2 324.1 L322.2 324.2 L323.2 324.3 L324.2 324.5 L325.2 324.6 L326.2 324.7 L327.2 324.8 L328.2 324.9 L329.2 325.0 L330.2 325.1 L331.2 325.2 L332.2 325.3 L333.2 325.4 L334.2 325.5 L335.2 325.6 L336.2 325.7 L337.2 325.8 L338.2 325.9 L339.2 326.0 L340.2 326.1 L341.2 326.2 L342.2 326.3 L343.2 326.4 L344.2 326.5 L345.2 326.6 L346.2 326.7 L347.2 326.8 L348.2 326.9 L349.2 327.0 L350.2 327.1 L351.2 327.2 L352.2 327.3 L353.2 327.4 L354.2 327.5 L355.2 327.6 L356.2 327.7 L357.2 327.8 L358.2 327.9 L359.2 328.0 L360.2 328.1 L361.2 328.2 L362.2 328.3 L363.2 328.4 L364.2 328.4 L365.2 328.5 L366.2 328.6 L367.2 328.7 L368.2 328.8 L369.2 328.9 L370.2 329.0 L371.2 329.1 L372.2 329.2 L373.2 329.3 L374.2 329.4 L375.2 329.5 L376.2 329.5 L377.2 329.6 L378.2 329.7 L379.2 329.8 L380.2 329.9 L381.2 330.0 L382.2 330.1 L383.2 330.2 L384.2 330.2 L385.2 330.3 L386.2 330.4 L387.2 330.5 L388.2 330.6 L389.2 330.7 L390.2 330.8 L391.2 330.8 L392.2 330.9 L393.2 331.0 L394.2 331.1 L395.2 331.2 L396.2 331.2 L397.2 331.3 L398.2 331.4 L399.2 331.5 L400.2 331.6 L401.2 331.6 L402.2 331.7 L403.2 331.8 L404.2 331.9 L405.2 332.0 L406.2 332.0 L407.2 332.1 L408.2 332.2 L409.2 332.3 L410.2 332.3 L411.2 332.4 L412.2 332.5 L413.2 332.6 L414.2 332.6 L415.2 332.7 L416.2 332.8 L417.2 332.9 L418.2 332.9 L419.2 333.0 L420.2 333.1 L421.2 333.1 L422.2 333.2 L423.2 333.3 L424.2 333.3 L425.2 333.4 L426.2 333.5 L427.2 333.5 L428.2 333.6 L429.2 333.7 L430.2 333.7 L431.2 333.8 L432.2 333.9 L432.6 333.9 L432.6 336.9 L430.4 336.9 L430.0 336.9 L429.0 336.8 L428.0 336.7 L427.0 336.7 L426.0 336.6 L425.0 336.5 L424.0 336.5 L423.0 336.4 L422.0 336.3 L421.0 336.3 L420.0 336.2 L419.0 336.1 L418.0 336.1 L417.0 336.0 L416.0 335.9 L415.0 335.9 L414.0 335.8 L413.0 335.7 L412.0 335.6 L411.0 335.6 L410.0 335.5 L409.0 335.4 L408.0 335.3 L407.0 335.3 L406.0 335.2 L405.0 335.1 L404.0 335.0 L403.0 335.0 L402.0 334.9 L401.0 334.8 L400.0 334.7 L399.0 334.6 L398.0 334.6 L397.0 334.5 L396.0 334.4 L395.0 334.3 L394.0 334.2 L393.0 334.2 L392.0 334.1 L391.0 334.0 L390.0 333.9 L389.0 333.8 L388.0 333.8 L387.0 333.7 L386.0 333.6 L385.0 333.5 L384.0 333.4 L383.0 333.3 L382.0 333.2 L381.0 333.2 L380.0 333.1 L379.0 333.0 L378.0 332.9 L377.0 332.8 L376.0 332.7 L375.0 332.6 L374.0 332.5 L373.0 332.5 L372.0 332.4 L371.0 332.3 L370.0 332.2 L369.0 332.1 L368.0 332.0 L367.0 331.9 L366.0 331.8 L365.0 331.7 L364.0 331.6 L363.0 331.5 L362.0 331.4 L361.0 331.4 L360.0 331.3 L359.0 331.2 L358.0 331.1 L357.0 331.0 L356.0 330.9 L355.0 330.8 L354.0 330.7 L353.0 330.6 L352.0 330.5 L351.0 330.4 L350.0 330.3 L349.0 330.2 L348.0 330.1 L347.0 330.0 L346.0 329.9 L345.0 329.8 L344.0 329.7 L343.0 329.6 L342.0 329.5 L341.0 329.4 L340.0 329.3 L339.0 329.2 L338.0 329.1 L337.0 329.0 L336.0 328.9 L335.0 328.8 L334.0 328.7 L333.0 328.6 L332.0 328.5 L331.0 328.4 L330.0 328.3 L329.0 328.2 L328.0 328.1 L327.0 328.0 L326.0 327.9 L325.0 327.8 L324.0 327.7 L323.0 327.6 L322.0 327.5 L321.0 327.3 L320.0 327.2 L319.0 327.1 L318.0 327.0 L317.0 326.9 L316.0 326.8 L315.0 326.7 L314.0 326.6 L313.0 326.5 L312.0 326.4 L311.0 326.2 L310.0 326.1 L309.0 326.0 L308.0 325.9 L307.0 325.8 L306.0 325.7 L305.0 325.6 L304.0 325.4 L303.0 325.3 L302.0 325.2 L301.0 325.1 L300.0 325.0 L299.0 324.9 L298.0 324.7 L297.0 324.6 L296.0 324.5 L295.0 324.4 L294.0 324.3 L293.0 324.1 L292.0 324.0 L291.0 323.9 L290.0 323.8 L289.0 323.6 L288.0 323.5 L287.0 323.4 L286.0 323.3 L285.0 323.1 L284.0 323.0 L283.0 322.9 L282.0 322.7 L281.0 322.6 L280.0 322.5 L279.0 322.3 L278.0 322.2 L277.0 322.1 L276.0 321.9 L275.0 321.8 L274.0 321.7 L273.0 321.5 L272.0 321.4 L271.0 321.3 L270.0 321.1 L269.0 321.0 L268.0 320.8 L267.0 320.7 L266.0 320.6 L265.0 320.4 L264.0 320.3 L263.0 320.1 L262.0 320.0 L261.0 319.8 L260.0 319.7 L259.0 319.5 L258.0 319.4 L257.0 319.2 L256.0 319.1 L255.0 318.9 L254.0 318.8 L253.0 318.6 L252.0 318.5 L251.0 318.3 L250.0 318.2 L249.0 318.0 L248.0 317.9 L247.0 317.7 L246.0 317.5 L245.0 317.4 L244.0 317.2 L243.0 317.0 L242.0 316.9 L241.0 316.7 L240.0 316.5 L239.0 316.4 L238.0 316.2 L237.0 316.0 L236.0 315.8 L235.0 315.7 L234.0 315.5 L233.0 315.3 L232.0 315.1 L231.0 314.9 L230.0 314.7 L229.0 314.6 L228.0 314.4 L227.0 314.2 L226.0 314.0 L225.0 313.8 L224.0 313.6 L223.0 313.4 L222.0 313.2 L221.0 313.0 L220.0 312.8 L219.0 312.6 L218.0 312.4 L217.0 312.2 L216.0 312.0 L215.0 311.8 L214.0 311.6 L213.0 311.4 L212.0 311.2 L211.0 311.0 L210.0 310.7 L209.0 310.5 L208.0 310.3 L207.0 310.1 L206.0 309.9 L205.0 309.7 L204.0 309.4 L203.0 309.2 L202.0 309.0 L201.0 308.8 L200.0 308.6 L199.0 308.3 L198.0 308.1 L197.0 307.9 L196.0 307.7 L195.0 307.4 L194.0 307.2 L193.0 307.0 L192.0 306.7 L191.0 306.5 L190.0 306.3 L189.0 306.0 L188.0 305.8 L187.0 305.6 L186.0 305.3 L185.0 305.1 L184.0 304.8 L183.0 304.6 L182.0 304.4 L181.0 304.1 L180.0 303.9 L179.0 303.6 L178.0 303.4 L177.0 303.1 L176.0 302.9 L175.0 302.7 L174.0 302.4 L173.0 302.2 L172.0 301.9 L171.0 301.7 L170.0 301.4 L169.0 301.2 L168.0 300.9 L167.0 300.7 L166.0 300.4 L165.0 300.2 L164.0 299.9 L163.0 299.6 L162.0 299.4 L161.0 299.1 L160.0 298.9 L159.0 298.6 L158.0 298.4 L157.0 298.1 L156.0 297.8 L155.0 297.6 L154.0 297.3 L153.0 297.1 L152.0 296.8 L151.0 296.5 L150.0 296.3 L149.0 296.0 L148.0 295.8 L147.0 295.5 L146.0 295.2 L145.0 295.0 L144.0 294.7 L143.0 294.4 L142.0 294.1 L141.0 293.8 L140.0 293.5 L139.0 293.2 L138.0 293.0 L137.0 292.7 L136.0 292.4 L135.0 292.1 L134.0 291.8 L133.0 291.5 L132.0 291.1 L131.0 290.8 L130.0 290.5 L129.0 290.2 L128.0 289.9 L127.0 289.6 L126.0 289.3 L125.0 288.9 L124.0 288.6 L123.0 288.3 L122.0 288.0 L121.0 287.7 L120.0 287.3 L119.0 287.0 L118.0 286.7 L117.0 286.4 L116.0 286.0 L115.0 285.7 L114.0 285.4 L113.0 285.1 L112.0 284.7 L111.0 284.4 L110.0 284.1 L109.0 283.8 L108.0 283.4 L107.0 283.1 L106.0 282.8 L105.0 282.5 L104.0 282.1 L103.0 281.8 L102.0 281.5 L101.0 281.2 L100.0 280.8 L99.0 280.5 L98.0 280.2 L97.0 279.9 L96.0 279.6 L95.0 279.3 L94.0 279.0 L93.0 278.7 L92.0 278.3 L91.0 278.0 L90.0 277.7 L89.0 277.4 L88.0 277.1 L87.0 276.8 L86.0 276.5 L85.0 276.2 L84.0 275.8 L83.0 275.5 L82.0 275.2 L81.0 274.9 L80.0 274.6 L79.0 274.3 L78.0 274.0 L77.0 273.7 L76.0 273.3 L75.0 273.0 L74.0 272.7 L73.0 272.4 L72.0 272.1 L71.0 271.8 L70.0 271.5 L69.0 271.2 L68.0 270.8 L67.0 270.5 L66.0 270.2 L65.0 269.9 L64.0 269.6 L63.0 269.3Z" fill="#0000ff"/>
<path d="M63.4 263.0 L65.6 263.0 L66.6 263.4 L67.6 263.8 L68.6 264.2 L69.6 264.6 L70.6 265.0 L71.6 265.4 L72.6 265.7 L73.6 266.1 L74.6 266.5 L75.6 266.9 L76.6 267.3 L76.6 270.3 L74.4 270.3 L73.4 269.9 L72.4 269.5 L71.4 269.1 L70.4 268.7 L69.4 268.4 L68.4 268.0 L67.4 267.6 L66.4 267.2 L65.4 266.8 L64.4 266.4 L63.4 266.0ZM80.4 269.6 L82.6 269.6 L83.6 270.0 L84.6 270.4 L85.6 270.8 L86.6 271.2 L87.6 271.5 L88.6 271.9 L89.6 272.3 L90.6 272.7 L91.6 273.1 L92.6 273.5 L93.6 273.9 L94.6 274.3 L94.6 277.3 L92.4 277.3 L91.4 276.9 L90.4 276.5 L89.4 276.1 L88.4 275.7 L87.4 275.3 L86.4 274.9 L85.4 274.5 L84.4 274.2 L83.4 273.8 L82.4 273.4 L81.4 273.0 L80.4 272.6ZM99.4 277.0 L101.6 277.0 L102.6 277.4 L103.6 277.7 L104.6 278.1 L105.6 278.5 L106.6 278.9 L107.6 279.3 L108.6 279.7 L109.6 280.1 L110.6 280.5 L111.6 280.9 L112.6 281.3 L113.6 281.7 L113.6 284.7 L111.4 284.7 L110.4 284.3 L109.4 283.9 L108.4 283.5 L107.4 283.1 L106.4 282.7 L105.4 282.3 L104.4 281.9 L103.4 281.5 L102.4 281.1 L101.4 280.7 L100.4 280.4 L99.4 280.0ZM117.4 284.0 L119.6 284.0 L120.6 284.4 L121.6 284.8 L122.6 285.2 L123.6 285.6 L124.6 285.9 L125.6 286.3 L126.6 286.7 L127.6 287.1 L128.6 287.4 L129.6 287.8 L130.6 288.2 L131.6 288.6 L131.6 291.6 L129.4 291.6 L128.4 291.2 L127.4 290.8 L126.4 290.4 L125.4 290.1 L124.4 289.7 L123.4 289.3 L122.4 288.9 L121.4 288.6 L120.4 288.2 L119.4 287.8 L118.4 287.4 L117.4 287.0ZM136.4 291.1 L138.6 291.1 L139.6 291.5 L140.6 291.8 L141.6 292.1 L142.6 292.4 L143.6 292.8 L144.6 293.0 L145.6 293.3 L146.6 293.6 L147.6 293.8 L148.6 294.1 L149.6 294.3 L150.6 294.6 L151.6 294.8 L151.6 297.8 L149.4 297.8 L148.4 297.6 L147.4 297.3 L146.4 297.1 L145.4 296.8 L144.4 296.6 L143.4 296.3 L142.4 296.0 L141.4 295.8 L140.4 295.4 L139.4 295.1 L138.4 294.8 L137.4 294.5 L136.4 294.1ZM154.4 296.3 L156.6 296.3 L157.6 296.6 L158.6 296.9 L159.6 297.2 L160.6 297.6 L161.6 297.9 L162.6 298.2 L163.6 298.5 L164.6 298.8 L165.6 299.2 L166.6 299.5 L167.6 299.8 L168.6 300.2 L169.6 300.5 L170.6 300.9 L170.6 303.9 L168.4 303.9 L167.4 303.5 L166.4 303.2 L165.4 302.8 L164.4 302.5 L163.4 302.2 L162.4 301.8 L161.4 301.5 L160.4 301.2 L159.4 300.9 L158.4 300.6 L157.4 300.2 L156.4 299.9 L155.4 299.6 L154.4 299.3ZM173.4 302.6 L175.6 302.6 L176.6 302.9 L177.6 303.3 L178.6 303.6 L179.6 304.0 L180.6 304.3 L181.6 304.7 L182.6 305.0 L183.6 305.4 L184.6 305.7 L185.6 306.0 L186.6 306.4 L187.6 306.7 L188.6 307.1 L189.6 307.4 L189.6 310.4 L187.4 310.4 L186.4 310.1 L185.4 309.7 L184.4 309.4 L183.4 309.0 L182.4 308.7 L181.4 308.4 L180.4 308.0 L179.4 307.7 L178.4 307.3 L177.4 307.0 L176.4 306.6 L175.4 306.3 L174.4 305.9 L173.4 305.6ZM193.4 309.4 L195.6 309.4 L196.6 309.7 L197.6 310.0 L198.6 310.3 L199.6 310.6 L200.6 310.9 L201.6 311.3 L202.6 311.6 L203.6 311.9 L204.6 312.2 L205.6 312.5 L206.6 312.8 L207.6 313.1 L207.6 316.1 L205.4 316.1 L204.4 315.8 L203.4 315.5 L202.4 315.2 L201.4 314.9 L200.4 314.6 L199.4 314.3 L198.4 313.9 L197.4 313.6 L196.4 313.3 L195.4 313.0 L194.4 312.7 L193.4 312.4ZM212.4 315.2 L214.6 315.2 L215.6 315.5 L216.6 315.8 L217.6 316.1 L218.6 316.4 L219.6 316.7 L220.6 317.0 L221.6 317.3 L222.6 317.6 L223.6 317.9 L224.6 318.2 L225.6 318.5 L226.6 318.8 L227.6 319.1 L227.6 322.1 L225.4 322.1 L224.4 321.8 L223.4 321.5 L222.4 321.2 L221.4 320.9 L220.4 320.6 L219.4 320.3 L218.4 320.0 L217.4 319.7 L216.4 319.4 L215.4 319.1 L214.4 318.8 L213.4 318.5 L212.4 318.2ZM231.4 320.8 L233.6 320.8 L234.6 321.1 L235.6 321.3 L236.6 321.6 L237.6 321.9 L238.6 322.1 L239.6 322.4 L240.6 322.7 L241.6 322.9 L242.6 323.2 L243.6 323.4 L244.6 323.7 L245.6 323.9 L246.6 324.2 L247.6 324.4 L247.6 327.4 L245.4 327.4 L244.4 327.2 L243.4 326.9 L242.4 326.7 L241.4 326.4 L240.4 326.2 L239.4 325.9 L238.4 325.7 L237.4 325.4 L236.4 325.1 L235.4 324.9 L234.4 324.6 L233.4 324.3 L232.4 324.1 L231.4 323.8ZM250.4 325.5 L252.6 325.5 L253.6 325.8 L254.6 326.0 L255.6 326.2 L256.6 326.4 L257.6 326.6 L258.6 326.9 L259.6 327.1 L260.6 327.3 L261.6 327.5 L262.6 327.7 L263.6 327.9 L264.6 328.1 L265.6 328.3 L266.6 328.6 L266.6 331.6 L264.4 331.6 L263.4 331.3 L262.4 331.1 L261.4 330.9 L260.4 330.7 L259.4 330.5 L258.4 330.3 L257.4 330.1 L256.4 329.9 L255.4 329.6 L254.4 329.4 L253.4 329.2 L252.4 329.0 L251.4 328.8 L250.4 328.5ZM270.4 329.8 L272.6 329.8 L273.6 330.0 L274.6 330.2 L275.6 330.4 L276.6 330.6 L277.6 330.8 L278.6 331.0 L279.6 331.2 L280.6 331.4 L281.6 331.6 L282.6 331.8 L283.6 332.0 L284.6 332.2 L285.6 332.4 L285.6 335.4 L283.4 335.4 L282.4 335.2 L281.4 335.0 L280.4 334.8 L279.4 334.6 L278.4 334.4 L277.4 334.2 L276.4 334.0 L275.4 333.8 L274.4 333.6 L273.4 333.4 L272.4 333.2 L271.4 333.0 L270.4 332.8ZM289.4 333.5 L291.6 333.5 L292.6 333.7 L293.6 333.9 L294.6 334.1 L295.6 334.2 L296.6 334.4 L297.6 334.6 L298.6 334.8 L299.6 335.0 L300.6 335.1 L301.6 335.3 L302.6 335.5 L303.6 335.7 L304.6 335.8 L305.6 336.0 L305.6 339.0 L303.4 339.0 L302.4 338.8 L301.4 338.7 L300.4 338.5 L299.4 338.3 L298.4 338.1 L297.4 338.0 L296.4 337.8 L295.4 337.6 L294.4 337.4 L293.4 337.2 L292.4 337.1 L291.4 336.9 L290.4 336.7 L289.4 336.5ZM309.4 337.0 L311.6 337.0 L312.6 337.2 L313.6 337.4 L314.6 337.5 L315.6 337.7 L316.6 337.9 L317.6 338.0 L318.6 338.2 L319.6 338.4 L320.6 338.5 L321.6 338.7 L322.6 338.8 L323.6 339.0 L324.6 339.2 L324.6 342.2 L322.4 342.2 L321.4 342.0 L320.4 341.8 L319.4 341.7 L318.4 341.5 L317.4 341.4 L316.4 341.2 L315.4 341.0 L314.4 340.9 L313.4 340.7 L312.4 340.5 L311.4 340.4 L310.4 340.2 L309.4 340.0ZM328.4 340.1 L330.6 340.1 L331.6 340.2 L332.6 340.4 L333.6 340.5 L334.6 340.7 L335.6 340.8 L336.6 341.0 L337.6 341.1 L338.6 341.3 L339.6 341.4 L340.6 341.5 L341.6 341.7 L342.6 341.8 L343.6 342.0 L344.6 342.1 L344.6 345.1 L342.4 345.1 L341.4 345.0 L340.4 344.8 L339.4 344.7 L338.4 344.5 L337.4 344.4 L336.4 344.3 L335.4 344.1 L334.4 344.0 L333.4 343.8 L332.4 343.7 L331.4 343.5 L330.4 343.4 L329.4 343.2 L328.4 343.1ZM348.4 342.9 L350.6 342.9 L351.6 343.1 L352.6 343.2 L353.6 343.3 L354.6 343.5 L355.6 343.6 L356.6 343.7 L357.6 343.9 L358.6 344.0 L359.6 344.1 L360.6 344.2 L361.6 344.4 L362.6 344.5 L363.6 344.6 L364.6 344.8 L364.6 347.8 L362.4 347.8 L361.4 347.6 L360.4 347.5 L359.4 347.4 L358.4 347.2 L357.4 347.1 L356.4 347.0 L355.4 346.9 L354.4 346.7 L353.4 346.6 L352.4 346.5 L351.4 346.3 L350.4 346.2 L349.4 346.1 L348.4 345.9ZM368.4 345.5 L370.6 345.5 L371.6 345.6 L372.6 345.8 L373.6 345.9 L374.6 346.0 L375.6 346.1 L376.6 346.2 L377.6 346.4 L378.6 346.5 L379.6 346.6 L380.6 346.7 L381.6 346.8 L382.6 347.0 L383.6 347.1 L383.6 350.1 L381.4 350.1 L380.4 350.0 L379.4 349.8 L378.4 349.7 L377.4 349.6 L376.4 349.5 L375.4 349.4 L374.4 349.2 L373.4 349.1 L372.4 349.0 L371.4 348.9 L370.4 348.8 L369.4 348.6 L368.4 348.5ZM387.4 347.8 L389.6 347.8 L390.6 347.9 L391.6 348.0 L392.6 348.1 L393.6 348.2 L394.6 348.3 L395.6 348.4 L396.6 348.5 L397.6 348.6 L398.6 348.7 L399.6 348.8 L400.6 348.9 L401.6 349.1 L402.6 349.2 L403.6 349.3 L404.6 349.4 L404.6 352.4 L402.4 352.4 L401.4 352.3 L400.4 352.2 L399.4 352.1 L398.4 351.9 L397.4 351.8 L396.4 351.7 L395.4 351.6 L394.4 351.5 L393.4 351.4 L392.4 351.3 L391.4 351.2 L390.4 351.1 L389.4 351.0 L388.4 350.9 L387.4 350.8ZM408.4 350.0 L410.6 350.0 L411.6 350.1 L412.6 350.1 L413.6 350.2 L414.6 350.3 L415.6 350.4 L416.6 350.5 L417.6 350.6 L418.6 350.7 L419.6 350.8 L420.6 350.9 L421.6 351.0 L422.6 351.1 L423.6 351.1 L423.6 354.1 L421.4 354.1 L420.4 354.1 L419.4 354.0 L418.4 353.9 L417.4 353.8 L416.4 353.7 L415.4 353.6 L414.4 353.5 L413.4 353.4 L412.4 353.3 L411.4 353.2 L410.4 353.1 L409.4 353.1 L408.4 353.0ZM427.4 351.6 L429.6 351.6 L430.6 351.7 L431.6 351.8 L432.6 351.9 L432.6 354.9 L430.4 354.9 L429.4 354.8 L428.4 354.7 L427.4 354.6Z" fill="#ff00ff"/>
<path id="bb2" d="M63.0 282.1 L65.2 282.1 L66.2 282.4 L67.2 282.8 L68.2 283.2 L69.2 283.5 L70.2 283.9 L71.2 284.2 L72.2 284.6 L73.2 285.0 L74.2 285.3 L75.2 285.7 L76.2 286.1 L77.2 286.4 L78.2 286.8 L79.2 287.1 L80.2 287.5 L81.2 287.9 L82.2 288.2 L83.2 288.6 L84.2 288.9 L85.2 289.3 L86.2 289.6 L87.2 290.0 L88.2 290.3 L89.2 290.7 L90.2 291.0 L91.2 291.4 L92.2 291.7 L93.2 292.1 L94.2 292.4 L95.2 292.8 L96.2 293.1 L97.2 293.5 L98.2 293.8 L99.2 294.2 L100.2 294.5 L101.2 294.8 L102.2 295.2 L103.2 295.5 L104.2 295.9 L105.2 296.2 L106.2 296.5 L107.2 296.9 L108.2 297.2 L109.2 297.5 L110.2 297.9 L111.2 298.2 L112.2 298.5 L113.2 298.9 L114.2 299.2 L115.2 299.5 L116.2 299.9 L117.2 300.2 L118.2 300.5 L119.2 300.8 L120.2 301.2 L121.2 301.5 L122.2 301.8 L123.2 302.1 L124.2 302.4 L125.2 302.8 L126.2 303.1 L127.2 303.4 L128.2 303.7 L129.2 304.0 L130.2 304.4 L131.2 304.7 L132.2 305.0 L133.2 305.3 L134.2 305.6 L135.2 305.9 L136.2 306.2 L137.2 306.5 L138.2 306.8 L139.2 307.1 L140.2 307.4 L141.2 307.8 L142.2 308.1 L143.2 308.4 L144.2 308.7 L145.2 309.0 L146.2 309.3 L147.2 309.6 L148.2 309.8 L149.2 310.1 L150.2 310.4 L151.2 310.7 L152.2 311.0 L153.2 311.3 L154.2 311.6 L155.2 311.9 L156.2 312.2 L157.2 312.5 L158.2 312.8 L159.2 313.1 L160.2 313.4 L161.2 313.7 L162.2 314.0 L163.2 314.3 L164.2 314.5 L165.2 314.8 L166.2 315.1 L167.2 315.4 L168.2 315.7 L169.2 316.0 L170.2 316.3 L171.2 316.6 L172.2 316.9 L173.2 317.2 L174.2 317.5 L175.2 317.8 L176.2 318.1 L177.2 318.3 L178.2 318.6 L179.2 318.9 L180.2 319.2 L181.2 319.5 L182.2 319.8 L183.2 320.1 L184.2 320.4 L185.2 320.6 L186.2 320.9 L187.2 321.2 L188.2 321.5 L189.2 321.8 L190.2 322.1 L191.2 322.3 L192.2 322.6 L193.2 322.9 L194.2 323.2 L195.2 323.5 L196.2 323.7 L197.2 324.0 L198.2 324.3 L199.2 324.6 L200.2 324.8 L201.2 325.1 L202.2 325.4 L203.2 325.6 L204.2 325.9 L205.2 326.2 L206.2 326.4 L207.2 326.7 L208.2 327.0 L209.2 327.2 L210.2 327.5 L211.2 327.7 L212.2 328.0 L213.2 328.3 L214.2 328.5 L215.2 328.8 L216.2 329.0 L217.2 329.3 L218.2 329.5 L219.2 329.8 L220.2 330.0 L221.2 330.3 L222.2 330.5 L223.2 330.7 L224.2 331.0 L225.2 331.2 L226.2 331.4 L227.2 331.7 L228.2 331.9 L229.2 332.1 L230.2 332.4 L231.2 332.6 L232.2 332.8 L233.2 333.0 L234.2 333.2 L235.2 333.5 L236.2 333.7 L237.2 333.9 L238.2 334.1 L239.2 334.3 L240.2 334.5 L241.2 334.7 L242.2 334.9 L243.2 335.1 L244.2 335.3 L245.2 335.5 L246.2 335.7 L247.2 335.9 L248.2 336.1 L249.2 336.3 L250.2 336.4 L251.2 336.6 L252.2 336.8 L253.2 337.0 L254.2 337.2 L255.2 337.3 L256.2 337.5 L257.2 337.7 L258.2 337.9 L259.2 338.0 L260.2 338.2 L261.2 338.4 L262.2 338.6 L263.2 338.7 L264.2 338.9 L265.2 339.1 L266.2 339.2 L267.2 339.4 L268.2 339.6 L269.2 339.7 L270.2 339.9 L271.2 340.1 L272.2 340.3 L273.2 340.4 L274.2 340.6 L275.2 340.8 L276.2 340.9 L277.2 341.1 L278.2 341.2 L279.2 341.4 L280.2 341.6 L281.2 341.7 L282.2 341.9 L283.2 342.0 L284.2 342.2 L285.2 342.4 L286.2 342.5 L287.2 342.7 L288.2 342.8 L289.2 343.0 L290.2 343.1 L291.2 343.3 L292.2 343.4 L293.2 343.6 L294.2 343.7 L295.2 343.9 L296.2 344.0 L297.2 344.2 L298.2 344.3 L299.2 344.5 L300.2 344.6 L301.2 344.8 L302.2 344.9 L303.2 345.0 L304.2 345.2 L305.2 345.3 L306.2 345.4 L307.2 345.6 L308.2 345.7 L309.2 345.8 L310.2 346.0 L311.2 346.1 L312.2 346.2 L313.2 346.4 L314.2 346.5 L315.2 346.6 L316.2 346.7 L317.2 346.9 L318.2 347.0 L319.2 347.1 L320.2 347.2 L321.2 347.3 L322.2 347.5 L323.2 347.6 L324.2 347.7 L325.2 347.8 L326.2 347.9 L327.2 348.0 L328.2 348.1 L329.2 348.2 L330.2 348.3 L331.2 348.5 L332.2 348.6 L333.2 348.7 L334.2 348.8 L335.2 348.9 L336.2 349.0 L337.2 349.0 L338.2 349.1 L339.2 349.2 L340.2 349.3 L341.2 349.4 L342.2 349.5 L343.2 349.6 L344.2 349.7 L345.2 349.7 L346.2 349.8 L347.2 349.9 L348.2 350.0 L349.2 350.1 L350.2 350.1 L351.2 350.2 L352.2 350.3 L353.2 350.3 L354.2 350.4 L355.2 350.5 L356.2 350.6 L357.2 350.6 L358.2 350.7 L359.2 350.8 L360.2 350.8 L361.2 350.9 L362.2 351.0 L363.2 351.1 L364.2 351.1 L365.2 351.2 L366.2 351.3 L367.2 351.3 L368.2 351.4 L369.2 351.5 L370.2 351.5 L371.2 351.6 L372.2 351.7 L373.2 351.7 L374.2 351.8 L375.2 351.9 L376.2 351.9 L377.2 352.0 L378.2 352.0 L379.2 352.1 L380.2 352.2 L381.2 352.2 L382.2 352.3 L383.2 352.4 L384.2 352.4 L385.2 352.5 L386.2 352.5 L387.2 352.6 L388.2 352.6 L389.2 352.7 L390.2 352.8 L391.2 352.8 L392.2 352.9 L393.2 352.9 L394.2 353.0 L395.2 353.0 L396.2 353.1 L397.2 353.1 L398.2 353.2 L399.2 353.2 L400.2 353.3 L401.2 353.3 L402.2 353.4 L403.2 353.4 L404.2 353.5 L405.2 353.5 L406.2 353.5 L407.2 353.6 L408.2 353.6 L409.2 353.7 L410.2 353.7 L411.2 353.7 L412.2 353.8 L413.2 353.8 L414.2 353.8 L415.2 353.9 L416.2 353.9 L417.2 353.9 L418.2 354.0 L419.2 354.0 L420.2 354.0 L421.2 354.1 L422.2 354.1 L423.2 354.1 L424.2 354.1 L425.2 354.2 L426.2 354.2 L427.2 354.2 L428.2 354.2 L429.2 354.2 L430.2 354.3 L431.2 354.3 L432.2 354.3 L432.6 354.3 L432.6 357.3 L430.4 357.3 L430.0 357.3 L429.0 357.3 L428.0 357.3 L427.0 357.2 L426.0 357.2 L425.0 357.2 L424.0 357.2 L423.0 357.2 L422.0 357.1 L421.0 357.1 L420.0 357.1 L419.0 357.1 L418.0 357.0 L417.0 357.0 L416.0 357.0 L415.0 356.9 L414.0 356.9 L413.0 356.9 L412.0 356.8 L411.0 356.8 L410.0 356.8 L409.0 356.7 L408.0 356.7 L407.0 356.7 L406.0 356.6 L405.0 356.6 L404.0 356.5 L403.0 356.5 L402.0 356.5 L401.0 356.4 L400.0 356.4 L399.0 356.3 L398.0 356.3 L397.0 356.2 L396.0 356.2 L395.0 356.1 L394.0 356.1 L393.0 356.0 L392.0 356.0 L391.0 355.9 L390.0 355.9 L389.0 355.8 L388.0 355.8 L387.0 355.7 L386.0 355.6 L385.0 355.6 L384.0 355.5 L383.0 355.5 L382.0 355.4 L381.0 355.4 L380.0 355.3 L379.0 355.2 L378.0 355.2 L377.0 355.1 L376.0 355.0 L375.0 355.0 L374.0 354.9 L373.0 354.9 L372.0 354.8 L371.0 354.7 L370.0 354.7 L369.0 354.6 L368.0 354.5 L367.0 354.5 L366.0 354.4 L365.0 354.3 L364.0 354.3 L363.0 354.2 L362.0 354.1 L361.0 354.1 L360.0 354.0 L359.0 353.9 L358.0 353.8 L357.0 353.8 L356.0 353.7 L355.0 353.6 L354.0 353.6 L353.0 353.5 L352.0 353.4 L351.0 353.3 L350.0 353.3 L349.0 353.2 L348.0 353.1 L347.0 353.1 L346.0 353.0 L345.0 352.9 L344.0 352.8 L343.0 352.7 L342.0 352.7 L341.0 352.6 L340.0 352.5 L339.0 352.4 L338.0 352.3 L337.0 352.2 L336.0 352.1 L335.0 352.0 L334.0 352.0 L333.0 351.9 L332.0 351.8 L331.0 351.7 L330.0 351.6 L329.0 351.5 L328.0 351.3 L327.0 351.2 L326.0 351.1 L325.0 351.0 L324.0 350.9 L323.0 350.8 L322.0 350.7 L321.0 350.6 L320.0 350.5 L319.0 350.3 L318.0 350.2 L317.0 350.1 L316.0 350.0 L315.0 349.9 L314.0 349.7 L313.0 349.6 L312.0 349.5 L311.0 349.4 L310.0 349.2 L309.0 349.1 L308.0 349.0 L307.0 348.8 L306.0 348.7 L305.0 348.6 L304.0 348.4 L303.0 348.3 L302.0 348.2 L301.0 348.0 L300.0 347.9 L299.0 347.8 L298.0 347.6 L297.0 347.5 L296.0 347.3 L295.0 347.2 L294.0 347.0 L293.0 346.9 L292.0 346.7 L291.0 346.6 L290.0 346.4 L289.0 346.3 L288.0 346.1 L287.0 346.0 L286.0 345.8 L285.0 345.7 L284.0 345.5 L283.0 345.4 L282.0 345.2 L281.0 345.0 L280.0 344.9 L279.0 344.7 L278.0 344.6 L277.0 344.4 L276.0 344.2 L275.0 344.1 L274.0 343.9 L273.0 343.8 L272.0 343.6 L271.0 343.4 L270.0 343.3 L269.0 343.1 L268.0 342.9 L267.0 342.7 L266.0 342.6 L265.0 342.4 L264.0 342.2 L263.0 342.1 L262.0 341.9 L261.0 341.7 L260.0 341.6 L259.0 341.4 L258.0 341.2 L257.0 341.0 L256.0 340.9 L255.0 340.7 L254.0 340.5 L253.0 340.3 L252.0 340.2 L251.0 340.0 L250.0 339.8 L249.0 339.6 L248.0 339.4 L247.0 339.3 L246.0 339.1 L245.0 338.9 L244.0 338.7 L243.0 338.5 L242.0 338.3 L241.0 338.1 L240.0 337.9 L239.0 337.7 L238.0 337.5 L237.0 337.3 L236.0 337.1 L235.0 336.9 L234.0 336.7 L233.0 336.5 L232.0 336.2 L231.0 336.0 L230.0 335.8 L229.0 335.6 L228.0 335.4 L227.0 335.1 L226.0 334.9 L225.0 334.7 L224.0 334.4 L223.0 334.2 L222.0 334.0 L221.0 333.7 L220.0 333.5 L219.0 333.3 L218.0 333.0 L217.0 332.8 L216.0 332.5 L215.0 332.3 L214.0 332.0 L213.0 331.8 L212.0 331.5 L211.0 331.3 L210.0 331.0 L209.0 330.7 L208.0 330.5 L207.0 330.2 L206.0 330.0 L205.0 329.7 L204.0 329.4 L203.0 329.2 L202.0 328.9 L201.0 328.6 L200.0 328.4 L199.0 328.1 L198.0 327.8 L197.0 327.6 L196.0 327.3 L195.0 327.0 L194.0 326.7 L193.0 326.5 L192.0 326.2 L191.0 325.9 L190.0 325.6 L189.0 325.3 L188.0 325.1 L187.0 324.8 L186.0 324.5 L185.0 324.2 L184.0 323.9 L183.0 323.6 L182.0 323.4 L181.0 323.1 L180.0 322.8 L179.0 322.5 L178.0 322.2 L177.0 321.9 L176.0 321.6 L175.0 321.3 L174.0 321.1 L173.0 320.8 L172.0 320.5 L171.0 320.2 L170.0 319.9 L169.0 319.6 L168.0 319.3 L167.0 319.0 L166.0 318.7 L165.0 318.4 L164.0 318.1 L163.0 317.8 L162.0 317.5 L161.0 317.3 L160.0 317.0 L159.0 316.7 L158.0 316.4 L157.0 316.1 L156.0 315.8 L155.0 315.5 L154.0 315.2 L153.0 314.9 L152.0 314.6 L151.0 314.3 L150.0 314.0 L149.0 313.7 L148.0 313.4 L147.0 313.1 L146.0 312.8 L145.0 312.6 L144.0 312.3 L143.0 312.0 L142.0 311.7 L141.0 311.4 L140.0 311.1 L139.0 310.8 L138.0 310.4 L137.0 310.1 L136.0 309.8 L135.0 309.5 L134.0 309.2 L133.0 308.9 L132.0 308.6 L131.0 308.3 L130.0 308.0 L129.0 307.7 L128.0 307.4 L127.0 307.0 L126.0 306.7 L125.0 306.4 L124.0 306.1 L123.0 305.8 L122.0 305.4 L121.0 305.1 L120.0 304.8 L119.0 304.5 L118.0 304.2 L117.0 303.8 L116.0 303.5 L115.0 303.2 L114.0 302.9 L113.0 302.5 L112.0 302.2 L111.0 301.9 L110.0 301.5 L109.0 301.2 L108.0 300.9 L107.0 300.5 L106.0 300.2 L105.0 299.9 L104.0 299.5 L103.0 299.2 L102.0 298.9 L101.0 298.5 L100.0 298.2 L99.0 297.8 L98.0 297.5 L97.0 297.2 L96.0 296.8 L95.0 296.5 L94.0 296.1 L93.0 295.8 L92.0 295.4 L91.0 295.1 L90.0 294.7 L89.0 294.4 L88.0 294.0 L87.0 293.7 L86.0 293.3 L85.0 293.0 L84.0 292.6 L83.0 292.3 L82.0 291.9 L81.0 291.6 L80.0 291.2 L79.0 290.9 L78.0 290.5 L77.0 290.1 L76.0 289.8 L75.0 289.4 L74.0 289.1 L73.0 288.7 L72.0 288.3 L71.0 288.0 L70.0 287.6 L69.0 287.2 L68.0 286.9 L67.0 286.5 L66.0 286.2 L65.0 285.8 L64.0 285.4 L63.0 285.1Z" fill="#0000ff"/>
<path d="M63.4 255.7 L65.6 255.7 L66.6 256.1 L67.6 256.5 L68.6 256.9 L69.6 257.3 L70.6 257.7 L71.6 258.0 L72.6 258.4 L73.6 258.8 L74.6 259.2 L75.6 259.6 L76.6 260.0 L76.6 263.0 L74.4 263.0 L73.4 262.6 L72.4 262.2 L71.4 261.8 L70.4 261.4 L69.4 261.0 L68.4 260.7 L67.4 260.3 L66.4 259.9 L65.4 259.5 L64.4 259.1 L63.4 258.7ZM80.4 262.2 L82.6 262.2 L83.6 262.6 L84.6 263.0 L85.6 263.4 L86.6 263.7 L87.6 264.1 L88.6 264.5 L89.6 264.9 L90.6 265.2 L91.6 265.6 L92.6 266.0 L93.6 266.3 L94.6 266.7 L95.6 267.1 L95.6 270.1 L93.4 270.1 L92.4 269.7 L91.4 269.3 L90.4 269.0 L89.4 268.6 L88.4 268.2 L87.4 267.9 L86.4 267.5 L85.4 267.1 L84.4 266.7 L83.4 266.4 L82.4 266.0 L81.4 265.6 L80.4 265.2ZM98.4 268.9 L100.6 268.9 L101.6 269.3 L102.6 269.6 L103.6 270.0 L104.6 270.4 L105.6 270.7 L106.6 271.1 L107.6 271.5 L108.6 271.8 L109.6 272.2 L110.6 272.6 L111.6 272.9 L112.6 273.3 L113.6 273.6 L113.6 276.6 L111.4 276.6 L110.4 276.3 L109.4 275.9 L108.4 275.6 L107.4 275.2 L106.4 274.8 L105.4 274.5 L104.4 274.1 L103.4 273.7 L102.4 273.4 L101.4 273.0 L100.4 272.6 L99.4 272.3 L98.4 271.9ZM117.4 275.8 L119.6 275.8 L120.6 276.2 L121.6 276.5 L122.6 276.9 L123.6 277.2 L124.6 277.6 L125.6 277.9 L126.6 278.3 L127.6 278.7 L128.6 279.0 L129.6 279.4 L130.6 279.7 L131.6 280.1 L132.6 280.4 L132.6 283.4 L130.4 283.4 L129.4 283.1 L128.4 282.7 L127.4 282.4 L126.4 282.0 L125.4 281.7 L124.4 281.3 L123.4 280.9 L122.4 280.6 L121.4 280.2 L120.4 279.9 L119.4 279.5 L118.4 279.2 L117.4 278.8ZM136.4 282.5 L138.6 282.5 L139.6 282.8 L140.6 283.2 L141.6 283.5 L142.6 283.9 L143.6 284.2 L144.6 284.5 L145.6 284.9 L146.6 285.2 L147.6 285.5 L148.6 285.9 L149.6 286.2 L150.6 286.5 L151.6 286.9 L151.6 289.9 L149.4 289.9 L148.4 289.5 L147.4 289.2 L146.4 288.9 L145.4 288.5 L144.4 288.2 L143.4 287.9 L142.4 287.5 L141.4 287.2 L140.4 286.9 L139.4 286.5 L138.4 286.2 L137.4 285.8 L136.4 285.5ZM154.4 288.5 L156.6 288.5 L157.6 288.8 L158.6 289.2 L159.6 289.5 L160.6 289.8 L161.6 290.2 L162.6 290.5 L163.6 290.8 L164.6 291.1 L165.6 291.5 L166.6 291.8 L167.6 292.1 L168.6 292.5 L169.6 292.8 L170.6 293.1 L170.6 296.1 L168.4 296.1 L167.4 295.8 L166.4 295.5 L165.4 295.1 L164.4 294.8 L163.4 294.5 L162.4 294.1 L161.4 293.8 L160.4 293.5 L159.4 293.2 L158.4 292.8 L157.4 292.5 L156.4 292.2 L155.4 291.8 L154.4 291.5ZM173.4 294.8 L175.6 294.8 L176.6 295.1 L177.6 295.4 L178.6 295.7 L179.6 296.1 L180.6 296.4 L181.6 296.7 L182.6 297.0 L183.6 297.4 L184.6 297.7 L185.6 298.0 L186.6 298.3 L187.6 298.7 L188.6 299.0 L189.6 299.3 L189.6 302.3 L187.4 302.3 L186.4 302.0 L185.4 301.7 L184.4 301.3 L183.4 301.0 L182.4 300.7 L181.4 300.4 L180.4 300.0 L179.4 299.7 L178.4 299.4 L177.4 299.1 L176.4 298.7 L175.4 298.4 L174.4 298.1 L173.4 297.8ZM193.4 301.2 L195.6 301.2 L196.6 301.5 L197.6 301.8 L198.6 302.2 L199.6 302.5 L200.6 302.8 L201.6 303.1 L202.6 303.4 L203.6 303.7 L204.6 304.0 L205.6 304.3 L206.6 304.6 L207.6 305.0 L207.6 308.0 L205.4 308.0 L204.4 307.6 L203.4 307.3 L202.4 307.0 L201.4 306.7 L200.4 306.4 L199.4 306.1 L198.4 305.8 L197.4 305.5 L196.4 305.2 L195.4 304.8 L194.4 304.5 L193.4 304.2ZM212.4 307.1 L214.6 307.1 L215.6 307.4 L216.6 307.7 L217.6 308.0 L218.6 308.3 L219.6 308.5 L220.6 308.8 L221.6 309.1 L222.6 309.4 L223.6 309.7 L224.6 310.0 L225.6 310.3 L226.6 310.6 L226.6 313.6 L224.4 313.6 L223.4 313.3 L222.4 313.0 L221.4 312.7 L220.4 312.4 L219.4 312.1 L218.4 311.8 L217.4 311.5 L216.4 311.3 L215.4 311.0 L214.4 310.7 L213.4 310.4 L212.4 310.1ZM230.4 312.2 L232.6 312.2 L233.6 312.5 L234.6 312.8 L235.6 313.0 L236.6 313.3 L237.6 313.6 L238.6 313.8 L239.6 314.1 L240.6 314.4 L241.6 314.6 L242.6 314.9 L243.6 315.1 L244.6 315.4 L245.6 315.6 L246.6 315.9 L247.6 316.1 L247.6 319.1 L245.4 319.1 L244.4 318.9 L243.4 318.6 L242.4 318.4 L241.4 318.1 L240.4 317.9 L239.4 317.6 L238.4 317.4 L237.4 317.1 L236.4 316.8 L235.4 316.6 L234.4 316.3 L233.4 316.0 L232.4 315.8 L231.4 315.5 L230.4 315.2ZM250.4 317.4 L252.6 317.4 L253.6 317.6 L254.6 317.8 L255.6 318.1 L256.6 318.3 L257.6 318.6 L258.6 318.8 L259.6 319.0 L260.6 319.3 L261.6 319.5 L262.6 319.7 L263.6 320.0 L264.6 320.2 L265.6 320.4 L265.6 323.4 L263.4 323.4 L262.4 323.2 L261.4 323.0 L260.4 322.7 L259.4 322.5 L258.4 322.3 L257.4 322.0 L256.4 321.8 L255.4 321.6 L254.4 321.3 L253.4 321.1 L252.4 320.8 L251.4 320.6 L250.4 320.4ZM269.4 321.8 L271.6 321.8 L272.6 322.0 L273.6 322.3 L274.6 322.5 L275.6 322.7 L276.6 322.9 L277.6 323.1 L278.6 323.4 L279.6 323.6 L280.6 323.8 L281.6 324.0 L282.6 324.3 L283.6 324.5 L284.6 324.7 L285.6 324.9 L285.6 327.9 L283.4 327.9 L282.4 327.7 L281.4 327.5 L280.4 327.3 L279.4 327.0 L278.4 326.8 L277.4 326.6 L276.4 326.4 L275.4 326.1 L274.4 325.9 L273.4 325.7 L272.4 325.5 L271.4 325.3 L270.4 325.0 L269.4 324.8ZM289.4 326.2 L291.6 326.2 L292.6 326.4 L293.6 326.6 L294.6 326.8 L295.6 327.0 L296.6 327.2 L297.6 327.4 L298.6 327.6 L299.6 327.8 L300.6 328.0 L301.6 328.2 L302.6 328.4 L303.6 328.6 L304.6 328.8 L305.6 329.0 L305.6 332.0 L303.4 332.0 L302.4 331.8 L301.4 331.6 L300.4 331.4 L299.4 331.2 L298.4 331.0 L297.4 330.8 L296.4 330.6 L295.4 330.4 L294.4 330.2 L293.4 330.0 L292.4 329.8 L291.4 329.6 L290.4 329.4 L289.4 329.2ZM309.4 330.2 L311.6 330.2 L312.6 330.4 L313.6 330.6 L314.6 330.8 L315.6 331.0 L316.6 331.2 L317.6 331.4 L318.6 331.5 L319.6 331.7 L320.6 331.9 L321.6 332.1 L322.6 332.3 L323.6 332.5 L324.6 332.6 L324.6 335.6 L322.4 335.6 L321.4 335.5 L320.4 335.3 L319.4 335.1 L318.4 334.9 L317.4 334.7 L316.4 334.5 L315.4 334.4 L314.4 334.2 L313.4 334.0 L312.4 333.8 L311.4 333.6 L310.4 333.4 L309.4 333.2ZM328.4 333.7 L330.6 333.7 L331.6 333.9 L332.6 334.0 L333.6 334.2 L334.6 334.4 L335.6 334.5 L336.6 334.7 L337.6 334.9 L338.6 335.0 L339.6 335.2 L340.6 335.4 L341.6 335.5 L342.6 335.7 L343.6 335.8 L343.6 338.8 L341.4 338.8 L340.4 338.7 L339.4 338.5 L338.4 338.4 L337.4 338.2 L336.4 338.0 L335.4 337.9 L334.4 337.7 L333.4 337.5 L332.4 337.4 L331.4 337.2 L330.4 337.0 L329.4 336.9 L328.4 336.7ZM347.4 336.8 L349.6 336.8 L350.6 336.9 L351.6 337.1 L352.6 337.2 L353.6 337.4 L354.6 337.5 L355.6 337.7 L356.6 337.8 L357.6 338.0 L358.6 338.1 L359.6 338.2 L360.6 338.4 L361.6 338.5 L362.6 338.7 L363.6 338.8 L363.6 341.8 L361.4 341.8 L360.4 341.7 L359.4 341.5 L358.4 341.4 L357.4 341.2 L356.4 341.1 L355.4 341.0 L354.4 340.8 L353.4 340.7 L352.4 340.5 L351.4 340.4 L350.4 340.2 L349.4 340.1 L348.4 339.9 L347.4 339.8ZM367.4 339.7 L369.6 339.7 L370.6 339.8 L371.6 339.9 L372.6 340.1 L373.6 340.2 L374.6 340.4 L375.6 340.5 L376.6 340.6 L377.6 340.8 L378.6 340.9 L379.6 341.0 L380.6 341.2 L381.6 341.3 L382.6 341.4 L383.6 341.5 L383.6 344.5 L381.4 344.5 L380.4 344.4 L379.4 344.3 L378.4 344.2 L377.4 344.0 L376.4 343.9 L375.4 343.8 L374.4 343.6 L373.4 343.5 L372.4 343.4 L371.4 343.2 L370.4 343.1 L369.4 342.9 L368.4 342.8 L367.4 342.7ZM387.4 342.3 L389.6 342.3 L390.6 342.4 L391.6 342.5 L392.6 342.7 L393.6 342.8 L394.6 342.9 L395.6 343.0 L396.6 343.2 L397.6 343.3 L398.6 343.4 L399.6 343.5 L400.6 343.6 L401.6 343.7 L402.6 343.9 L403.6 344.0 L403.6 347.0 L401.4 347.0 L400.4 346.9 L399.4 346.7 L398.4 346.6 L397.4 346.5 L396.4 346.4 L395.4 346.3 L394.4 346.2 L393.4 346.0 L392.4 345.9 L391.4 345.8 L390.4 345.7 L389.4 345.5 L388.4 345.4 L387.4 345.3ZM407.4 344.6 L409.6 344.6 L410.6 344.7 L411.6 344.8 L412.6 345.0 L413.6 345.1 L414.6 345.2 L415.6 345.3 L416.6 345.4 L417.6 345.5 L418.6 345.6 L419.6 345.7 L420.6 345.8 L421.6 345.9 L422.6 346.0 L422.6 349.0 L420.4 349.0 L419.4 348.9 L418.4 348.8 L417.4 348.7 L416.4 348.6 L415.4 348.5 L414.4 348.4 L413.4 348.3 L412.4 348.2 L411.4 348.1 L410.4 348.0 L409.4 347.8 L408.4 347.7 L407.4 347.6ZM426.4 346.5 L428.6 346.5 L429.6 346.6 L430.6 346.7 L431.6 346.8 L432.6 346.9 L432.6 349.9 L430.4 349.9 L429.4 349.8 L428.4 349.7 L427.4 349.6 L426.4 349.5Z" fill="#ff00ff"/>
<path id="bb3" d="M63.0 293.4 L65.2 293.4 L66.2 293.8 L67.2 294.2 L68.2 294.5 L69.2 294.9 L70.2 295.2 L71.2 295.6 L72.2 295.9 L73.2 296.3 L74.2 296.6 L75.2 297.0 L76.2 297.3 L77.2 297.7 L78.2 298.0 L79.2 298.4 L80.2 298.7 L81.2 299.1 L82.2 299.4 L83.2 299.8 L84.2 300.1 L85.2 300.5 L86.2 300.8 L87.2 301.2 L88.2 301.5 L89.2 301.9 L90.2 302.2 L91.2 302.6 L92.2 302.9 L93.2 303.3 L94.2 303.6 L95.2 303.9 L96.2 304.3 L97.2 304.6 L98.2 305.0 L99.2 305.3 L100.2 305.7 L101.2 306.0 L102.2 306.3 L103.2 306.7 L104.2 307.0 L105.2 307.3 L106.2 307.7 L107.2 308.0 L108.2 308.4 L109.2 308.7 L110.2 309.0 L111.2 309.4 L112.2 309.7 L113.2 310.0 L114.2 310.4 L115.2 310.7 L116.2 311.0 L117.2 311.4 L118.2 311.7 L119.2 312.0 L120.2 312.3 L121.2 312.7 L122.2 313.0 L123.2 313.3 L124.2 313.6 L125.2 314.0 L126.2 314.3 L127.2 314.6 L128.2 314.9 L129.2 315.3 L130.2 315.6 L131.2 315.9 L132.2 316.2 L133.2 316.6 L134.2 316.9 L135.2 317.2 L136.2 317.5 L137.2 317.8 L138.2 318.2 L139.2 318.5 L140.2 318.8 L141.2 319.1 L142.2 319.4 L143.2 319.7 L144.2 320.1 L145.2 320.4 L146.2 320.7 L147.2 321.0 L148.2 321.3 L149.2 321.6 L150.2 321.9 L151.2 322.2 L152.2 322.5 L153.2 322.9 L154.2 323.2 L155.2 323.5 L156.2 323.8 L157.2 324.1 L158.2 324.4 L159.2 324.7 L160.2 325.0 L161.2 325.4 L162.2 325.7 L163.2 326.0 L164.2 326.3 L165.2 326.6 L166.2 326.9 L167.2 327.3 L168.2 327.6 L169.2 327.9 L170.2 328.2 L171.2 328.5 L172.2 328.9 L173.2 329.2 L174.2 329.5 L175.2 329.8 L176.2 330.1 L177.2 330.4 L178.2 330.8 L179.2 331.1 L180.2 331.4 L181.2 331.7 L182.2 332.0 L183.2 332.3 L184.2 332.7 L185.2 333.0 L186.2 333.3 L187.2 333.6 L188.2 333.9 L189.2 334.2 L190.2 334.5 L191.2 334.9 L192.2 335.2 L193.2 335.5 L194.2 335.8 L195.2 336.1 L196.2 336.4 L197.2 336.7 L198.2 337.0 L199.2 337.3 L200.2 337.6 L201.2 337.9 L202.2 338.2 L203.2 338.5 L204.2 338.8 L205.2 339.1 L206.2 339.4 L207.2 339.7 L208.2 340.0 L209.2 340.3 L210.2 340.6 L211.2 340.9 L212.2 341.2 L213.2 341.5 L214.2 341.8 L215.2 342.0 L216.2 342.3 L217.2 342.6 L218.2 342.9 L219.2 343.2 L220.2 343.4 L221.2 343.7 L222.2 344.0 L223.2 344.2 L224.2 344.5 L225.2 344.8 L226.2 345.0 L227.2 345.3 L228.2 345.6 L229.2 345.8 L230.2 346.1 L231.2 346.3 L232.2 346.6 L233.2 346.8 L234.2 347.1 L235.2 347.3 L236.2 347.5 L237.2 347.8 L238.2 348.0 L239.2 348.2 L240.2 348.5 L241.2 348.7 L242.2 348.9 L243.2 349.2 L244.2 349.4 L245.2 349.6 L246.2 349.8 L247.2 350.0 L248.2 350.2 L249.2 350.4 L250.2 350.6 L251.2 350.8 L252.2 351.0 L253.2 351.2 L254.2 351.4 L255.2 351.6 L256.2 351.8 L257.2 352.0 L258.2 352.2 L259.2 352.4 L260.2 352.6 L261.2 352.8 L262.2 353.0 L263.2 353.1 L264.2 353.3 L265.2 353.5 L266.2 353.7 L267.2 353.9 L268.2 354.1 L269.2 354.3 L270.2 354.5 L271.2 354.6 L272.2 354.8 L273.2 355.0 L274.2 355.2 L275.2 355.4 L276.2 355.5 L277.2 355.7 L278.2 355.9 L279.2 356.1 L280.2 356.3 L281.2 356.4 L282.2 356.6 L283.2 356.8 L284.2 357.0 L285.2 357.1 L286.2 357.3 L287.2 357.5 L288.2 357.6 L289.2 357.8 L290.2 358.0 L291.2 358.2 L292.2 358.3 L293.2 358.5 L294.2 358.6 L295.2 358.8 L296.2 359.0 L297.2 359.1 L298.2 359.3 L299.2 359.4 L300.2 359.6 L301.2 359.8 L302.2 359.9 L303.2 360.1 L304.2 360.2 L305.2 360.4 L306.2 360.5 L307.2 360.7 L308.2 360.8 L309.2 361.0 L310.2 361.1 L311.2 361.3 L312.2 361.4 L313.2 361.5 L314.2 361.7 L315.2 361.8 L316.2 362.0 L317.2 362.1 L318.2 362.2 L319.2 362.4 L320.2 362.5 L321.2 362.6 L322.2 362.7 L323.2 362.9 L324.2 363.0 L325.2 363.1 L326.2 363.3 L327.2 363.4 L328.2 363.5 L329.2 363.6 L330.2 363.7 L331.2 363.8 L332.2 364.0 L333.2 364.1 L334.2 364.2 L335.2 364.3 L336.2 364.4 L337.2 364.5 L338.2 364.6 L339.2 364.7 L340.2 364.8 L341.2 364.9 L342.2 365.0 L343.2 365.1 L344.2 365.2 L345.2 365.3 L346.2 365.4 L347.2 365.5 L348.2 365.6 L349.2 365.6 L350.2 365.7 L351.2 365.8 L352.2 365.9 L353.2 366.0 L354.2 366.1 L355.2 366.1 L356.2 366.2 L357.2 366.3 L358.2 366.4 L359.2 366.5 L360.2 366.5 L361.2 366.6 L362.2 366.7 L363.2 366.8 L364.2 366.8 L365.2 366.9 L366.2 367.0 L367.2 367.1 L368.2 367.2 L369.2 367.2 L370.2 367.3 L371.2 367.4 L372.2 367.5 L373.2 367.5 L374.2 367.6 L375.2 367.7 L376.2 367.7 L377.2 367.8 L378.2 367.9 L379.2 368.0 L380.2 368.0 L381.2 368.1 L382.2 368.2 L383.2 368.2 L384.2 368.3 L385.2 368.4 L386.2 368.4 L387.2 368.5 L388.2 368.6 L389.2 368.6 L390.2 368.7 L391.2 368.8 L392.2 368.8 L393.2 368.9 L394.2 368.9 L395.2 369.0 L396.2 369.1 L397.2 369.1 L398.2 369.2 L399.2 369.2 L400.2 369.3 L401.2 369.3 L402.2 369.4 L403.2 369.4 L404.2 369.5 L405.2 369.5 L406.2 369.6 L407.2 369.6 L408.2 369.7 L409.2 369.7 L410.2 369.8 L411.2 369.8 L412.2 369.9 L413.2 369.9 L414.2 369.9 L415.2 370.0 L416.2 370.0 L417.2 370.1 L418.2 370.1 L419.2 370.1 L420.2 370.2 L421.2 370.2 L422.2 370.2 L423.2 370.3 L424.2 370.3 L425.2 370.3 L426.2 370.3 L427.2 370.4 L428.2 370.4 L429.2 370.4 L430.2 370.4 L431.2 370.5 L432.2 370.5 L432.6 370.5 L432.6 373.5 L430.4 373.5 L430.0 373.5 L429.0 373.5 L428.0 373.4 L427.0 373.4 L426.0 373.4 L425.0 373.4 L424.0 373.3 L423.0 373.3 L422.0 373.3 L421.0 373.3 L420.0 373.2 L419.0 373.2 L418.0 373.2 L417.0 373.1 L416.0 373.1 L415.0 373.1 L414.0 373.0 L413.0 373.0 L412.0 372.9 L411.0 372.9 L410.0 372.9 L409.0 372.8 L408.0 372.8 L407.0 372.7 L406.0 372.7 L405.0 372.6 L404.0 372.6 L403.0 372.5 L402.0 372.5 L401.0 372.4 L400.0 372.4 L399.0 372.3 L398.0 372.3 L397.0 372.2 L396.0 372.2 L395.0 372.1 L394.0 372.1 L393.0 372.0 L392.0 371.9 L391.0 371.9 L390.0 371.8 L389.0 371.8 L388.0 371.7 L387.0 371.6 L386.0 371.6 L385.0 371.5 L384.0 371.4 L383.0 371.4 L382.0 371.3 L381.0 371.2 L380.0 371.2 L379.0 371.1 L378.0 371.0 L377.0 371.0 L376.0 370.9 L375.0 370.8 L374.0 370.7 L373.0 370.7 L372.0 370.6 L371.0 370.5 L370.0 370.5 L369.0 370.4 L368.0 370.3 L367.0 370.2 L366.0 370.2 L365.0 370.1 L364.0 370.0 L363.0 369.9 L362.0 369.8 L361.0 369.8 L360.0 369.7 L359.0 369.6 L358.0 369.5 L357.0 369.5 L356.0 369.4 L355.0 369.3 L354.0 369.2 L353.0 369.1 L352.0 369.1 L351.0 369.0 L350.0 368.9 L349.0 368.8 L348.0 368.7 L347.0 368.6 L346.0 368.6 L345.0 368.5 L344.0 368.4 L343.0 368.3 L342.0 368.2 L341.0 368.1 L340.0 368.0 L339.0 367.9 L338.0 367.8 L337.0 367.7 L336.0 367.6 L335.0 367.5 L334.0 367.4 L333.0 367.3 L332.0 367.2 L331.0 367.1 L330.0 367.0 L329.0 366.8 L328.0 366.7 L327.0 366.6 L326.0 366.5 L325.0 366.4 L324.0 366.3 L323.0 366.1 L322.0 366.0 L321.0 365.9 L320.0 365.7 L319.0 365.6 L318.0 365.5 L317.0 365.4 L316.0 365.2 L315.0 365.1 L314.0 365.0 L313.0 364.8 L312.0 364.7 L311.0 364.5 L310.0 364.4 L309.0 364.3 L308.0 364.1 L307.0 364.0 L306.0 363.8 L305.0 363.7 L304.0 363.5 L303.0 363.4 L302.0 363.2 L301.0 363.1 L300.0 362.9 L299.0 362.8 L298.0 362.6 L297.0 362.4 L296.0 362.3 L295.0 362.1 L294.0 362.0 L293.0 361.8 L292.0 361.6 L291.0 361.5 L290.0 361.3 L289.0 361.2 L288.0 361.0 L287.0 360.8 L286.0 360.6 L285.0 360.5 L284.0 360.3 L283.0 360.1 L282.0 360.0 L281.0 359.8 L280.0 359.6 L279.0 359.4 L278.0 359.3 L277.0 359.1 L276.0 358.9 L275.0 358.7 L274.0 358.5 L273.0 358.4 L272.0 358.2 L271.0 358.0 L270.0 357.8 L269.0 357.6 L268.0 357.5 L267.0 357.3 L266.0 357.1 L265.0 356.9 L264.0 356.7 L263.0 356.5 L262.0 356.3 L261.0 356.1 L260.0 356.0 L259.0 355.8 L258.0 355.6 L257.0 355.4 L256.0 355.2 L255.0 355.0 L254.0 354.8 L253.0 354.6 L252.0 354.4 L251.0 354.2 L250.0 354.0 L249.0 353.8 L248.0 353.6 L247.0 353.4 L246.0 353.2 L245.0 353.0 L244.0 352.8 L243.0 352.6 L242.0 352.4 L241.0 352.2 L240.0 351.9 L239.0 351.7 L238.0 351.5 L237.0 351.2 L236.0 351.0 L235.0 350.8 L234.0 350.5 L233.0 350.3 L232.0 350.1 L231.0 349.8 L230.0 349.6 L229.0 349.3 L228.0 349.1 L227.0 348.8 L226.0 348.6 L225.0 348.3 L224.0 348.0 L223.0 347.8 L222.0 347.5 L221.0 347.2 L220.0 347.0 L219.0 346.7 L218.0 346.4 L217.0 346.2 L216.0 345.9 L215.0 345.6 L214.0 345.3 L213.0 345.0 L212.0 344.8 L211.0 344.5 L210.0 344.2 L209.0 343.9 L208.0 343.6 L207.0 343.3 L206.0 343.0 L205.0 342.7 L204.0 342.4 L203.0 342.1 L202.0 341.8 L201.0 341.5 L200.0 341.2 L199.0 340.9 L198.0 340.6 L197.0 340.3 L196.0 340.0 L195.0 339.7 L194.0 339.4 L193.0 339.1 L192.0 338.8 L191.0 338.5 L190.0 338.2 L189.0 337.9 L188.0 337.5 L187.0 337.2 L186.0 336.9 L185.0 336.6 L184.0 336.3 L183.0 336.0 L182.0 335.7 L181.0 335.3 L180.0 335.0 L179.0 334.7 L178.0 334.4 L177.0 334.1 L176.0 333.8 L175.0 333.4 L174.0 333.1 L173.0 332.8 L172.0 332.5 L171.0 332.2 L170.0 331.9 L169.0 331.5 L168.0 331.2 L167.0 330.9 L166.0 330.6 L165.0 330.3 L164.0 329.9 L163.0 329.6 L162.0 329.3 L161.0 329.0 L160.0 328.7 L159.0 328.4 L158.0 328.0 L157.0 327.7 L156.0 327.4 L155.0 327.1 L154.0 326.8 L153.0 326.5 L152.0 326.2 L151.0 325.9 L150.0 325.5 L149.0 325.2 L148.0 324.9 L147.0 324.6 L146.0 324.3 L145.0 324.0 L144.0 323.7 L143.0 323.4 L142.0 323.1 L141.0 322.7 L140.0 322.4 L139.0 322.1 L138.0 321.8 L137.0 321.5 L136.0 321.2 L135.0 320.8 L134.0 320.5 L133.0 320.2 L132.0 319.9 L131.0 319.6 L130.0 319.2 L129.0 318.9 L128.0 318.6 L127.0 318.3 L126.0 317.9 L125.0 317.6 L124.0 317.3 L123.0 317.0 L122.0 316.6 L121.0 316.3 L120.0 316.0 L119.0 315.7 L118.0 315.3 L117.0 315.0 L116.0 314.7 L115.0 314.4 L114.0 314.0 L113.0 313.7 L112.0 313.4 L111.0 313.0 L110.0 312.7 L109.0 312.4 L108.0 312.0 L107.0 311.7 L106.0 311.4 L105.0 311.0 L104.0 310.7 L103.0 310.3 L102.0 310.0 L101.0 309.7 L100.0 309.3 L99.0 309.0 L98.0 308.7 L97.0 308.3 L96.0 308.0 L95.0 307.6 L94.0 307.3 L93.0 306.9 L92.0 306.6 L91.0 306.3 L90.0 305.9 L89.0 305.6 L88.0 305.2 L87.0 304.9 L86.0 304.5 L85.0 304.2 L84.0 303.8 L83.0 303.5 L82.0 303.1 L81.0 302.8 L80.0 302.4 L79.0 302.1 L78.0 301.7 L77.0 301.4 L76.0 301.0 L75.0 300.7 L74.0 300.3 L73.0 300.0 L72.0 299.6 L71.0 299.3 L70.0 298.9 L69.0 298.6 L68.0 298.2 L67.0 297.9 L66.0 297.5 L65.0 297.2 L64.0 296.8 L63.0 296.4Z" fill="#0000ff"/>
<path d="M63.4 246.0 L65.6 246.0 L66.6 246.4 L67.6 246.8 L68.6 247.2 L69.6 247.6 L70.6 248.0 L71.6 248.4 L72.6 248.7 L73.6 249.1 L74.6 249.5 L75.6 249.9 L76.6 250.3 L76.6 253.3 L74.4 253.3 L73.4 252.9 L72.4 252.5 L71.4 252.1 L70.4 251.7 L69.4 251.4 L68.4 251.0 L67.4 250.6 L66.4 250.2 L65.4 249.8 L64.4 249.4 L63.4 249.0ZM80.4 252.6 L82.6 252.6 L83.6 252.9 L84.6 253.3 L85.6 253.7 L86.6 254.1 L87.6 254.4 L88.6 254.8 L89.6 255.2 L90.6 255.6 L91.6 255.9 L92.6 256.3 L93.6 256.7 L94.6 257.1 L95.6 257.4 L95.6 260.4 L93.4 260.4 L92.4 260.1 L91.4 259.7 L90.4 259.3 L89.4 258.9 L88.4 258.6 L87.4 258.2 L86.4 257.8 L85.4 257.4 L84.4 257.1 L83.4 256.7 L82.4 256.3 L81.4 255.9 L80.4 255.6ZM98.4 259.3 L100.6 259.3 L101.6 259.7 L102.6 260.0 L103.6 260.4 L104.6 260.8 L105.6 261.1 L106.6 261.5 L107.6 261.9 L108.6 262.2 L109.6 262.6 L110.6 263.0 L111.6 263.3 L112.6 263.7 L113.6 264.1 L114.6 264.4 L115.6 264.8 L116.6 265.2 L117.6 265.5 L118.6 265.9 L119.6 266.2 L120.6 266.6 L121.6 267.0 L122.6 267.3 L123.6 267.7 L124.6 268.0 L125.6 268.4 L126.6 268.8 L127.6 269.1 L128.6 269.5 L129.6 269.8 L129.6 272.8 L127.4 272.8 L126.4 272.5 L125.4 272.1 L124.4 271.8 L123.4 271.4 L122.4 271.0 L121.4 270.7 L120.4 270.3 L119.4 270.0 L118.4 269.6 L117.4 269.2 L116.4 268.9 L115.4 268.5 L114.4 268.2 L113.4 267.8 L112.4 267.4 L111.4 267.1 L110.4 266.7 L109.4 266.3 L108.4 266.0 L107.4 265.6 L106.4 265.2 L105.4 264.9 L104.4 264.5 L103.4 264.1 L102.4 263.8 L101.4 263.4 L100.4 263.0 L99.4 262.7 L98.4 262.3ZM133.4 271.9 L135.6 271.9 L136.6 272.3 L137.6 272.6 L138.6 273.0 L139.6 273.3 L140.6 273.7 L141.6 274.0 L142.6 274.4 L143.6 274.7 L144.6 275.1 L145.6 275.4 L146.6 275.8 L147.6 276.1 L148.6 276.4 L148.6 279.4 L146.4 279.4 L145.4 279.1 L144.4 278.8 L143.4 278.4 L142.4 278.1 L141.4 277.7 L140.4 277.4 L139.4 277.0 L138.4 276.7 L137.4 276.3 L136.4 276.0 L135.4 275.6 L134.4 275.3 L133.4 274.9ZM151.4 278.2 L153.6 278.2 L154.6 278.5 L155.6 278.8 L156.6 279.2 L157.6 279.5 L158.6 279.9 L159.6 280.2 L160.6 280.6 L161.6 280.9 L162.6 281.2 L163.6 281.6 L164.6 281.9 L165.6 282.3 L166.6 282.6 L167.6 283.0 L167.6 286.0 L165.4 286.0 L164.4 285.6 L163.4 285.3 L162.4 284.9 L161.4 284.6 L160.4 284.2 L159.4 283.9 L158.4 283.6 L157.4 283.2 L156.4 282.9 L155.4 282.5 L154.4 282.2 L153.4 281.8 L152.4 281.5 L151.4 281.2ZM170.4 284.7 L172.6 284.7 L173.6 285.0 L174.6 285.4 L175.6 285.7 L176.6 286.1 L177.6 286.4 L178.6 286.8 L179.6 287.1 L180.6 287.4 L181.6 287.8 L182.6 288.1 L183.6 288.5 L184.6 288.8 L185.6 289.2 L186.6 289.5 L186.6 292.5 L184.4 292.5 L183.4 292.2 L182.4 291.8 L181.4 291.5 L180.4 291.1 L179.4 290.8 L178.4 290.4 L177.4 290.1 L176.4 289.8 L175.4 289.4 L174.4 289.1 L173.4 288.7 L172.4 288.4 L171.4 288.0 L170.4 287.7ZM189.4 291.2 L191.6 291.2 L192.6 291.5 L193.6 291.9 L194.6 292.2 L195.6 292.5 L196.6 292.9 L197.6 293.2 L198.6 293.5 L199.6 293.9 L200.6 294.2 L201.6 294.5 L202.6 294.9 L203.6 295.2 L204.6 295.5 L205.6 295.8 L205.6 298.8 L203.4 298.8 L202.4 298.5 L201.4 298.2 L200.4 297.9 L199.4 297.5 L198.4 297.2 L197.4 296.9 L196.4 296.5 L195.4 296.2 L194.4 295.9 L193.4 295.5 L192.4 295.2 L191.4 294.9 L190.4 294.5 L189.4 294.2ZM208.4 297.5 L210.6 297.5 L211.6 297.8 L212.6 298.1 L213.6 298.4 L214.6 298.7 L215.6 299.0 L216.6 299.4 L217.6 299.7 L218.6 300.0 L219.6 300.3 L220.6 300.6 L221.6 300.9 L222.6 301.2 L223.6 301.5 L224.6 301.8 L224.6 304.8 L222.4 304.8 L221.4 304.5 L220.4 304.2 L219.4 303.9 L218.4 303.6 L217.4 303.3 L216.4 303.0 L215.4 302.7 L214.4 302.4 L213.4 302.0 L212.4 301.7 L211.4 301.4 L210.4 301.1 L209.4 300.8 L208.4 300.5ZM228.4 303.6 L230.6 303.6 L231.6 303.9 L232.6 304.2 L233.6 304.5 L234.6 304.8 L235.6 305.0 L236.6 305.3 L237.6 305.6 L238.6 305.9 L239.6 306.2 L240.6 306.4 L241.6 306.7 L242.6 307.0 L243.6 307.2 L243.6 310.2 L241.4 310.2 L240.4 310.0 L239.4 309.7 L238.4 309.4 L237.4 309.2 L236.4 308.9 L235.4 308.6 L234.4 308.3 L233.4 308.0 L232.4 307.8 L231.4 307.5 L230.4 307.2 L229.4 306.9 L228.4 306.6ZM247.4 308.8 L249.6 308.8 L250.6 309.1 L251.6 309.3 L252.6 309.6 L253.6 309.8 L254.6 310.1 L255.6 310.3 L256.6 310.6 L257.6 310.8 L258.6 311.1 L259.6 311.3 L260.6 311.6 L261.6 311.8 L262.6 312.1 L262.6 315.1 L260.4 315.1 L259.4 314.8 L258.4 314.6 L257.4 314.3 L256.4 314.1 L255.4 313.8 L254.4 313.6 L253.4 313.3 L252.4 313.1 L251.4 312.8 L250.4 312.6 L249.4 312.3 L248.4 312.1 L247.4 311.8ZM266.4 313.5 L268.6 313.5 L269.6 313.7 L270.6 314.0 L271.6 314.2 L272.6 314.4 L273.6 314.7 L274.6 314.9 L275.6 315.1 L276.6 315.4 L277.6 315.6 L278.6 315.8 L279.6 316.1 L280.6 316.3 L281.6 316.5 L281.6 319.5 L279.4 319.5 L278.4 319.3 L277.4 319.1 L276.4 318.8 L275.4 318.6 L274.4 318.4 L273.4 318.1 L272.4 317.9 L271.4 317.7 L270.4 317.4 L269.4 317.2 L268.4 317.0 L267.4 316.7 L266.4 316.5ZM285.4 317.9 L287.6 317.9 L288.6 318.1 L289.6 318.3 L290.6 318.5 L291.6 318.8 L292.6 319.0 L293.6 319.2 L294.6 319.4 L295.6 319.6 L296.6 319.8 L297.6 320.1 L298.6 320.3 L299.6 320.5 L300.6 320.7 L301.6 320.9 L301.6 323.9 L299.4 323.9 L298.4 323.7 L297.4 323.5 L296.4 323.3 L295.4 323.1 L294.4 322.8 L293.4 322.6 L292.4 322.4 L291.4 322.2 L290.4 322.0 L289.4 321.8 L288.4 321.5 L287.4 321.3 L286.4 321.1 L285.4 320.9ZM306.4 322.3 L308.6 322.3 L309.6 322.5 L310.6 322.7 L311.6 322.9 L312.6 323.1 L313.6 323.3 L314.6 323.5 L315.6 323.7 L316.6 323.9 L317.6 324.1 L318.6 324.3 L319.6 324.5 L320.6 324.7 L320.6 327.7 L318.4 327.7 L317.4 327.5 L316.4 327.3 L315.4 327.1 L314.4 326.9 L313.4 326.7 L312.4 326.5 L311.4 326.3 L310.4 326.1 L309.4 325.9 L308.4 325.7 L307.4 325.5 L306.4 325.3ZM324.4 325.8 L326.6 325.8 L327.6 326.0 L328.6 326.2 L329.6 326.4 L330.6 326.6 L331.6 326.8 L332.6 326.9 L333.6 327.1 L334.6 327.3 L335.6 327.5 L336.6 327.7 L337.6 327.8 L338.6 328.0 L339.6 328.2 L340.6 328.4 L341.6 328.5 L341.6 331.5 L339.4 331.5 L338.4 331.4 L337.4 331.2 L336.4 331.0 L335.4 330.8 L334.4 330.7 L333.4 330.5 L332.4 330.3 L331.4 330.1 L330.4 329.9 L329.4 329.8 L328.4 329.6 L327.4 329.4 L326.4 329.2 L325.4 329.0 L324.4 328.8ZM344.4 329.4 L346.6 329.4 L347.6 329.5 L348.6 329.7 L349.6 329.9 L350.6 330.0 L351.6 330.2 L352.6 330.3 L353.6 330.5 L354.6 330.7 L355.6 330.8 L356.6 331.0 L357.6 331.1 L358.6 331.3 L359.6 331.4 L360.6 331.6 L360.6 334.6 L358.4 334.6 L357.4 334.4 L356.4 334.3 L355.4 334.1 L354.4 334.0 L353.4 333.8 L352.4 333.7 L351.4 333.5 L350.4 333.3 L349.4 333.2 L348.4 333.0 L347.4 332.9 L346.4 332.7 L345.4 332.5 L344.4 332.4ZM363.4 332.4 L365.6 332.4 L366.6 332.5 L367.6 332.7 L368.6 332.8 L369.6 333.0 L370.6 333.1 L371.6 333.3 L372.6 333.4 L373.6 333.6 L374.6 333.7 L375.6 333.9 L376.6 334.0 L377.6 334.2 L378.6 334.3 L379.6 334.5 L379.6 337.5 L377.4 337.5 L376.4 337.3 L375.4 337.2 L374.4 337.0 L373.4 336.9 L372.4 336.7 L371.4 336.6 L370.4 336.4 L369.4 336.3 L368.4 336.1 L367.4 336.0 L366.4 335.8 L365.4 335.7 L364.4 335.5 L363.4 335.4ZM383.4 335.3 L385.6 335.3 L386.6 335.4 L387.6 335.6 L388.6 335.7 L389.6 335.9 L390.6 336.0 L391.6 336.1 L392.6 336.3 L393.6 336.4 L394.6 336.5 L395.6 336.7 L396.6 336.8 L397.6 336.9 L398.6 337.0 L399.6 337.2 L399.6 340.2 L397.4 340.2 L396.4 340.0 L395.4 339.9 L394.4 339.8 L393.4 339.7 L392.4 339.5 L391.4 339.4 L390.4 339.3 L389.4 339.1 L388.4 339.0 L387.4 338.9 L386.4 338.7 L385.4 338.6 L384.4 338.4 L383.4 338.3ZM403.4 337.9 L405.6 337.9 L406.6 338.1 L407.6 338.2 L408.6 338.3 L409.6 338.4 L410.6 338.5 L411.6 338.7 L412.6 338.8 L413.6 338.9 L414.6 339.0 L415.6 339.1 L416.6 339.2 L417.6 339.4 L418.6 339.5 L419.6 339.6 L419.6 342.6 L417.4 342.6 L416.4 342.5 L415.4 342.4 L414.4 342.2 L413.4 342.1 L412.4 342.0 L411.4 341.9 L410.4 341.8 L409.4 341.7 L408.4 341.5 L407.4 341.4 L406.4 341.3 L405.4 341.2 L404.4 341.1 L403.4 340.9ZM423.4 340.2 L425.6 340.2 L426.6 340.3 L427.6 340.4 L428.6 340.5 L429.6 340.6 L430.6 340.8 L431.6 340.9 L432.6 341.0 L432.6 344.0 L430.4 344.0 L429.4 343.9 L428.4 343.8 L427.4 343.6 L426.4 343.5 L425.4 343.4 L424.4 343.3 L423.4 343.2Z" fill="#ff00ff"/>
<rect x="62" y="292" width="4" height="3" fill="#000"/>
</g>
<defs><filter id="thr" x="-5%" y="-5%" width="110%" height="110%" color-interpolation-filters="sRGB"><feComponentTransfer><feFuncA type="discrete" tableValues="0 0 1 1"/></feComponentTransfer></filter></defs>
<g filter="url(#thr)">
<g transform="translate(0,449.4)">
<text x="197.9" y="0" font-size="16.5" font-family="Liberation Serif, serif" font-weight="bold" fill="#0000ff" stroke="#0000ff" stroke-width="1.0" stroke-linejoin="miter" >r</text>
<line x1="206.55" y1="1.3" x2="213.95" y2="-13.5" stroke="#0000ff" stroke-width="3.0" stroke-linecap="butt"/>
<text x="215" y="0" font-size="16.5" font-family="Liberation Serif, serif" font-weight="bold" fill="#0000ff" stroke="#0000ff" stroke-width="1.0" stroke-linejoin="miter" >r</text>
<text x="221.0" y="3.6" font-size="14.5" font-family="Liberation Serif, serif" font-weight="bold" fill="#0000ff" stroke="#0000ff" stroke-width="1.0" stroke-linejoin="miter" >s</text>
<text x="235.3" y="0" font-size="16.5" font-family="Liberation Serif, serif" font-weight="bold" fill="#0000ff" stroke="#0000ff" stroke-width="1.0" stroke-linejoin="miter" textLength="7.4" lengthAdjust="spacingAndGlyphs">o</text>
<text x="243.4" y="0" font-size="16.5" font-family="Liberation Serif, serif" font-weight="bold" fill="#0000ff" stroke="#0000ff" stroke-width="1.0" stroke-linejoin="miter" >r</text>
<text x="258.1" y="0" font-size="16.5" font-family="Liberation Serif, serif" font-weight="bold" fill="#0000ff" stroke="#0000ff" stroke-width="1.0" stroke-linejoin="miter" textLength="9.6" lengthAdjust="spacingAndGlyphs">R</text>
<line x1="268.05" y1="1.3" x2="275.35" y2="-13.5" stroke="#0000ff" stroke-width="3.0" stroke-linecap="butt"/>
<text x="276.9" y="0" font-size="16.5" font-family="Liberation Serif, serif" font-weight="bold" fill="#0000ff" stroke="#0000ff" stroke-width="1.0" stroke-linejoin="miter" textLength="9.6" lengthAdjust="spacingAndGlyphs">R</text>
<text x="285.6" y="3.5" font-size="12" font-family="Liberation Serif, serif" font-weight="bold" fill="#0000ff" stroke="#0000ff" stroke-width="1.0" stroke-linejoin="miter" textLength="13.6" lengthAdjust="spacingAndGlyphs">vir</text>
</g>
<g transform="translate(15.2,149.5) rotate(-90)">
<polyline points="3.9,-11.8 0.9,-5.2 3.9,1.4" stroke="#0000ff" stroke-width="3.0" fill="none" stroke-linejoin="miter" stroke-linecap="square"/>
<text x="5.7" y="0" font-size="16.5" font-family="Liberation Serif, serif" font-weight="bold" fill="#0000ff" stroke="#0000ff" stroke-width="1.0" stroke-linejoin="miter" textLength="7.9" lengthAdjust="spacingAndGlyphs">&#948;</text>
<path d="M18.30 -12.8Q12.20 -5.4 18.30 2.2" stroke="#0000ff" stroke-width="3.0" fill="none" stroke-linecap="butt"/>
<text x="19.4" y="0" font-size="18.5" font-family="Liberation Serif, serif" font-weight="bold" fill="#0000ff" stroke="#0000ff" stroke-width="1.0" stroke-linejoin="miter" >r</text>
<path d="M28.30 -12.8Q34.40 -5.4 28.30 2.2" stroke="#0000ff" stroke-width="3.0" fill="none" stroke-linecap="butt"/>
<polyline points="35.1,-11.8 38.1,-5.2 35.1,1.4" stroke="#0000ff" stroke-width="3.0" fill="none" stroke-linejoin="miter" stroke-linecap="square"/>
<line x1="39.5" y1="2.1" x2="46.9" y2="-12.7" stroke="#0000ff" stroke-width="3.3" stroke-linecap="butt"/>
<text x="49.8" y="0" font-size="17.5" font-family="Liberation Serif, serif" font-weight="bold" fill="#0000ff" stroke="#0000ff" stroke-width="1.0" stroke-linejoin="miter" >&#957;</text>
</g>
<g transform="translate(14.8,337.5) rotate(-90)">
<text x="0.3" y="-0.7" font-size="18.5" font-family="Liberation Serif, serif" font-weight="bold" fill="#0000ff" stroke="#0000ff" stroke-width="1.0" stroke-linejoin="miter" >&#961;</text>
<path d="M14.30 -12.8Q8.20 -5.4 14.30 2.2" stroke="#0000ff" stroke-width="3.0" fill="none" stroke-linecap="butt"/>
<text x="15.5" y="0" font-size="16.5" font-family="Liberation Serif, serif" font-weight="bold" fill="#0000ff" stroke="#0000ff" stroke-width="1.0" stroke-linejoin="miter" textLength="9.9" lengthAdjust="spacingAndGlyphs" style="stroke-width:1.5">R</text>
<path d="M25.00 -12.8Q31.10 -5.4 25.00 2.2" stroke="#0000ff" stroke-width="3.0" fill="none" stroke-linecap="butt"/>
<line x1="30.9" y1="2.1" x2="38.3" y2="-12.7" stroke="#0000ff" stroke-width="3.3" stroke-linecap="butt"/>
<text x="38.0" y="-0.7" font-size="18.5" font-family="Liberation Serif, serif" font-weight="bold" fill="#0000ff" stroke="#0000ff" stroke-width="1.0" stroke-linejoin="miter" >&#961;</text>
<line x1="39.7" y1="-10.1" x2="48.3" y2="-10.1" stroke="#0000ff" stroke-width="2.4" stroke-linecap="butt"/>
</g>
</g>
</svg>
</body></html>
